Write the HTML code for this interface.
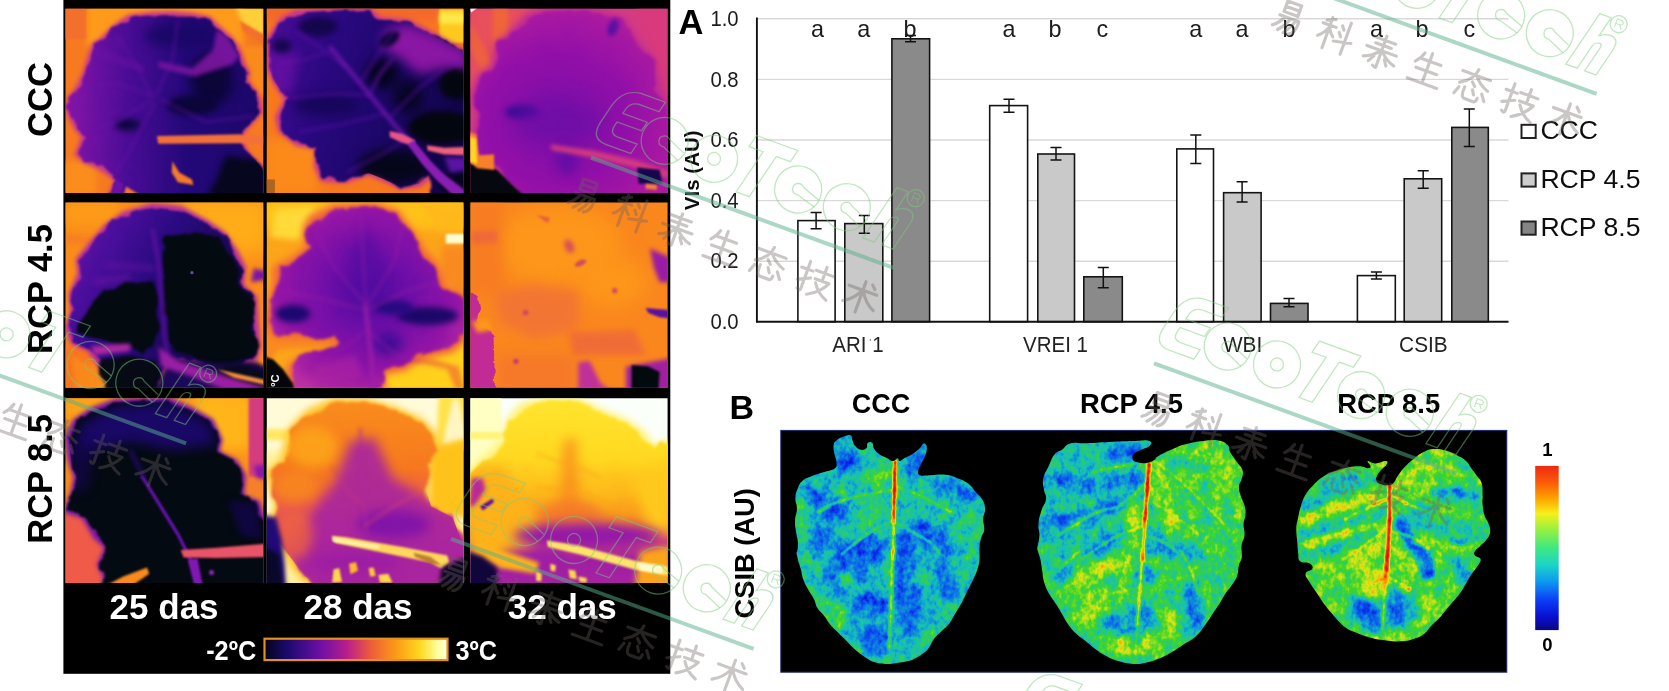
<!DOCTYPE html>
<html><head><meta charset="utf-8"><title>Figure</title>
<style>
html,body{margin:0;padding:0;background:#fff;}
body{width:1669px;height:691px;overflow:hidden;position:relative;font-family:"Liberation Sans",sans-serif;}
svg text{font-family:"Liberation Sans",sans-serif;}
#root{position:absolute;left:0;top:0;}
</style></head><body>
<svg id="root" width="1669" height="691" viewBox="0 0 1669 691">
<defs>
<filter id="tb" x="-5%" y="-5%" width="110%" height="110%"><feGaussianBlur stdDeviation="0.45"/></filter>
</defs>
<rect x="0" y="0" width="1669" height="691" fill="#fff"/>
<g id="leftpanel">
<rect x="63.4" y="0" width="606.9" height="673.8" fill="#000"/>
<g filter="url(#tb)" font-weight="bold">
<text transform="translate(51.6,99.5) rotate(-90)" font-size="34.5" text-anchor="middle" fill="#000">CCC</text>
<text transform="translate(51.6,289) rotate(-90)" font-size="34.5" text-anchor="middle" fill="#000">RCP 4.5</text>
<text transform="translate(51.6,478.9) rotate(-90)" font-size="34.5" text-anchor="middle" fill="#000">RCP 8.5</text>
<text x="164.1" y="618.5" font-size="35" text-anchor="middle" fill="#fff">25 das</text>
<text x="358" y="618.5" font-size="35" text-anchor="middle" fill="#fff">28 das</text>
<text x="562.3" y="618.5" font-size="35" text-anchor="middle" fill="#fff">32 das</text>
<text x="256.2" y="659.9" font-size="28" text-anchor="end" fill="#fff" textLength="50" lengthAdjust="spacingAndGlyphs">-2ºC</text>
<text x="455.4" y="659.9" font-size="28" fill="#fff" textLength="41.5" lengthAdjust="spacingAndGlyphs">3ºC</text>
</g>
<linearGradient id="tcb" x1="0" x2="1" y1="0" y2="0">
<stop offset="0" stop-color="#05051e"/><stop offset="0.12" stop-color="#1a0a6e"/><stop offset="0.3" stop-color="#6a0fa6"/>
<stop offset="0.45" stop-color="#b81e8c"/><stop offset="0.58" stop-color="#ee5a3c"/><stop offset="0.72" stop-color="#fb9a16"/>
<stop offset="0.85" stop-color="#ffd61e"/><stop offset="0.95" stop-color="#ffff9a"/><stop offset="1" stop-color="#ffffe0"/>
</linearGradient>
<rect x="263.4" y="637.6" width="185.2" height="23.6" fill="#e3901e"/>
<rect x="265.6" y="639.8" width="180.8" height="19.2" fill="url(#tcb)"/>
</g>
<g id="cells">
<defs>
<filter id="b2" filterUnits="userSpaceOnUse" x="-150" y="-150" width="2000" height="1000" color-interpolation-filters="sRGB"><feGaussianBlur stdDeviation="2"/></filter>
<filter id="b4" filterUnits="userSpaceOnUse" x="-150" y="-150" width="2000" height="1000" color-interpolation-filters="sRGB"><feGaussianBlur stdDeviation="4"/></filter>
<filter id="b7" filterUnits="userSpaceOnUse" x="-150" y="-150" width="2000" height="1000" color-interpolation-filters="sRGB"><feGaussianBlur stdDeviation="7"/></filter>
<filter id="b12" filterUnits="userSpaceOnUse" x="-150" y="-150" width="2000" height="1000" color-interpolation-filters="sRGB"><feGaussianBlur stdDeviation="12"/></filter>
<filter id="b20" filterUnits="userSpaceOnUse" x="-150" y="-150" width="2000" height="1000" color-interpolation-filters="sRGB"><feGaussianBlur stdDeviation="20"/></filter>
<filter id="b35" filterUnits="userSpaceOnUse" x="-150" y="-150" width="2000" height="1000" color-interpolation-filters="sRGB"><feGaussianBlur stdDeviation="35"/></filter>
<filter id="org" filterUnits="userSpaceOnUse" x="-150" y="-150" width="2000" height="1000" color-interpolation-filters="sRGB"><feTurbulence type="fractalNoise" baseFrequency="0.018" numOctaves="3" seed="3" result="n"/><feDisplacementMap in="SourceGraphic" in2="n" scale="34" xChannelSelector="R" yChannelSelector="G"/><feGaussianBlur stdDeviation="3.5"/></filter>
<filter id="org2" filterUnits="userSpaceOnUse" x="-150" y="-150" width="2000" height="1000" color-interpolation-filters="sRGB"><feTurbulence type="fractalNoise" baseFrequency="0.03" numOctaves="3" seed="7" result="n"/><feDisplacementMap in="SourceGraphic" in2="n" scale="22" xChannelSelector="R" yChannelSelector="G"/><feGaussianBlur stdDeviation="2.5"/></filter>
<filter id="org3" filterUnits="userSpaceOnUse" x="-150" y="-150" width="2000" height="1000" color-interpolation-filters="sRGB"><feTurbulence type="fractalNoise" baseFrequency="0.012" numOctaves="3" seed="11" result="n"/><feDisplacementMap in="SourceGraphic" in2="n" scale="50" xChannelSelector="R" yChannelSelector="G"/><feGaussianBlur stdDeviation="5"/></filter>
</defs>
<svg x="60.0" y="4.0" width="210.0" height="194.0" viewBox="0 0 748.0 691.0" preserveAspectRatio="none">
<clipPath id="cl00"><rect x="19.6" y="16.7" width="704.5" height="656.5"/></clipPath>
<g clip-path="url(#cl00)">
<rect x="0" y="0" width="748" height="691" fill="#f77a20"/>
<rect x="95" y="0" width="560" height="150" fill="#ff9a1a" filter="url(#b12)"/>
<rect x="10" y="10" width="82" height="115" fill="#f2702c" filter="url(#b4)"/>
<rect x="10" y="560" width="120" height="120" fill="#fb8d1c" filter="url(#b12)"/>
<path d="M625 10 L730 10 L730 120 L690 105 L650 70 Z" fill="#ffcf3a" filter="url(#b7)"/>
<path d="M640 60 L730 110 L730 150 L650 95 Z" fill="#f2702c" filter="url(#b4)"/>
<path d="M640 150 L730 150 L730 330 L690 300 L660 220 Z" fill="#f98a1c" filter="url(#b7)"/>
<linearGradient id="g00" x1="0" x2="1" y1="0" y2="0"><stop offset="0" stop-color="#8414a8"/><stop offset="0.3" stop-color="#4a0c96"/><stop offset="0.6" stop-color="#230878"/><stop offset="1" stop-color="#1c0768"/></linearGradient>
<!--halo--><path d="M185 95 L215 70 L250 48 L330 38 L400 36 L470 42 L530 55 L560 85 L600 120 L625 150 L640 185 L650 215 L668 250 L660 275 L690 310 L705 340 L715 380 L690 410 L662 440 L645 462 L650 500 L668 530 L700 560 L730 600 L730 690 L175 690 L185 650 L200 620 L160 590 L130 575 L95 560 L62 530 L75 500 L85 470 L60 440 L40 400 L32 365 L38 335 L65 300 L90 250 L105 200 L125 145 L150 130 Z" transform="translate(380,360) scale(1.035) translate(-380,-360)" fill="#c8388a" filter="url(#b7)"/>
<g filter="url(#org)">
<path id="lf00" d="M185 95 L215 70 L250 48 L330 38 L400 36 L470 42 L530 55 L560 85 L600 120 L625 150 L640 185 L650 215 L668 250 L660 275 L690 310 L705 340 L715 380 L690 410 L662 440 L645 462 L650 500 L668 530 L700 560 L730 600 L730 690 L175 690 L185 650 L200 620 L160 590 L130 575 L95 560 L62 530 L75 500 L85 470 L60 440 L40 400 L32 365 L38 335 L65 300 L90 250 L105 200 L125 145 L150 130 Z" fill="url(#g00)"/>
</g>
<clipPath id="lc00"><use href="#lf00"/></clipPath>
<g clip-path="url(#lc00)">
<ellipse cx="540" cy="270" rx="75" ry="95" fill="#0b0538" filter="url(#b20)"/>
<ellipse cx="470" cy="360" rx="90" ry="35" fill="#0b0538" filter="url(#b12)"/>
<ellipse cx="240" cy="430" rx="45" ry="22" fill="#0e0640" filter="url(#b12)"/>
<ellipse cx="430" cy="110" rx="130" ry="45" fill="#1a0768" filter="url(#b20)"/>
<path d="M590 540 L730 560 L730 690 L520 690 L560 620 Z" fill="#06061e" filter="url(#b12)"/>
<path d="M560 88 L600 120 L640 185 L615 215 L480 258 L350 225 L350 205 L470 230 L545 165 Z" fill="#8418a6" opacity="0.85" filter="url(#b7)"/>
<path d="M130 150 L300 220 L300 245 L120 190 Z" fill="#6a12a4" opacity="0.5" filter="url(#b7)"/>
<g stroke="#6a14aa" fill="none" opacity="0.5" filter="url(#b7)" stroke-width="9">
<path d="M330 330 L200 280 L80 300"/><path d="M330 330 L260 200 L200 110"/><path d="M340 330 L400 200 L420 60"/>
<path d="M330 340 L200 420 L70 470"/><path d="M340 350 L250 520 L200 600"/><path d="M360 340 L520 420 L690 400"/>
</g>
</g>
<path d="M345 470 L640 464 L730 470 L730 500 L645 496 L350 498 Z" fill="#f4703a" filter="url(#b4)"/>
<path d="M400 560 L425 600 L470 625 L475 645 L420 635 L398 600 Z" fill="#f57a2a" filter="url(#b4)"/>
<path d="M180 690 L200 625 L225 640 L215 690 Z" fill="#6a12a4" filter="url(#b4)"/>
<path d="M225 690 L235 650 L300 690 Z" fill="#f57a2a" filter="url(#b4)"/>
</g></svg>
<svg x="262.0" y="4.0" width="206.0" height="194.0" viewBox="0 0 734.0 691.0" preserveAspectRatio="none">
<clipPath id="cl01"><rect x="17.1" y="16.7" width="700.5" height="656.5"/></clipPath>
<g clip-path="url(#cl01)">
<rect x="0" y="0" width="734" height="691" fill="#f8781e"/>
<rect x="0" y="0" width="734" height="60" fill="#f4682c" filter="url(#b12)"/>
<rect x="10" y="480" width="190" height="200" fill="#fb8a1a" filter="url(#b20)"/>
<rect x="632" y="18" width="90" height="120" fill="#ffc81e" filter="url(#b4)"/>
<rect x="632" y="30" width="90" height="40" fill="#ffe84a" filter="url(#b7)"/>
<linearGradient id="g01" x1="0" x2="1" y1="0" y2="0.3"><stop offset="0" stop-color="#4a0c98"/><stop offset="0.35" stop-color="#2a0880"/><stop offset="0.7" stop-color="#1c0768"/><stop offset="1" stop-color="#12054c"/></linearGradient>
<!--halo--><path d="M75 60 L130 30 L230 25 L380 18 L420 55 L520 65 L600 105 L680 150 L740 185 L740 690 L600 690 L595 610 L560 640 L490 650 L430 622 L380 602 L300 628 L215 622 L192 570 L195 512 L130 500 L70 452 L58 400 L88 340 L55 290 L25 230 L28 130 Z" transform="translate(400,340) scale(1.035) translate(-400,-340)" fill="#c8388a" filter="url(#b7)"/>
<g filter="url(#org)">
<path id="lf01" d="M75 60 L130 30 L230 25 L380 18 L420 55 L520 65 L600 105 L680 150 L740 185 L740 690 L600 690 L595 610 L560 640 L490 650 L430 622 L380 602 L300 628 L215 622 L192 570 L195 512 L130 500 L70 452 L58 400 L88 340 L55 290 L25 230 L28 130 Z" fill="url(#g01)"/>
</g>
<clipPath id="lc01"><use href="#lf01"/></clipPath>
<g clip-path="url(#lc01)">
<path d="M440 90 L520 70 L620 110 L740 170 L740 250 L640 230 L560 250 L500 200 L430 160 Z" fill="#8a16a4" filter="url(#b20)"/>
<path d="M20 150 L130 180 L100 330 L20 300 Z" fill="#6a10a4" opacity="0.8" filter="url(#b20)"/>
<ellipse cx="690" cy="285" rx="60" ry="55" fill="#04060f" filter="url(#b12)"/>
<ellipse cx="640" cy="440" rx="120" ry="60" fill="#04060f" filter="url(#b12)"/>
<ellipse cx="470" cy="580" rx="130" ry="62" fill="#05061a" filter="url(#b20)"/>
<ellipse cx="430" cy="250" rx="60" ry="55" fill="#06051e" filter="url(#b20)"/>
<ellipse cx="520" cy="330" rx="55" ry="60" fill="#080524" filter="url(#b20)"/>
<ellipse cx="455" cy="125" rx="40" ry="22" fill="#0a0530" transform="rotate(-35 455 125)" filter="url(#b7)"/>
<ellipse cx="200" cy="80" rx="70" ry="35" fill="#14064c" filter="url(#b12)"/>
<ellipse cx="70" cy="150" rx="35" ry="25" fill="#14064c" filter="url(#b12)"/>
<ellipse cx="230" cy="360" rx="120" ry="40" fill="#16065a" filter="url(#b20)"/>
<ellipse cx="690" cy="640" rx="60" ry="40" fill="#05061a" filter="url(#b12)"/>
<g stroke="#6214aa" fill="none" opacity="0.55" filter="url(#b7)" stroke-width="9">
<path d="M300 225 L200 150 L120 95"/><path d="M385 325 L250 320 L100 335"/><path d="M440 390 L280 430 L130 455"/>
<path d="M350 280 L420 170 L480 85"/><path d="M455 405 L560 300 L640 240 L720 200"/><path d="M520 480 L420 540 L300 600"/>
<path d="M250 165 L150 200 L50 215"/>
</g>
<path d="M240 150 L480 440 L620 595 L730 680" stroke="#7418b0" stroke-width="12" fill="none" filter="url(#b7)"/>
<path d="M380 330 L420 250 L470 190" stroke="#5a12a4" stroke-width="8" fill="none" filter="url(#b7)"/>
</g>
<path d="M455 452 L500 462 L545 485 L540 505 L495 492 L455 474 Z" fill="#e85486" filter="url(#b4)"/>
<path d="M540 485 L600 560 L650 610 L735 675 L735 695 L690 690 L620 625 L570 570 L520 500 Z" fill="#8a1eb4" filter="url(#b4)"/>
<path d="M588 503 L650 512 L735 508 L735 540 L650 536 L590 522 Z" fill="#f0607a" filter="url(#b4)"/>
<path d="M650 545 L740 548 L740 590 L670 600 Z" fill="#5a14a4" filter="url(#b7)"/>
<rect x="14" y="625" width="32" height="50" fill="#b0621e" filter="url(#b2)"/>
</g></svg>
<svg x="466.0" y="4.0" width="206.0" height="194.0" viewBox="0 0 734.0 691.0" preserveAspectRatio="none">
<clipPath id="cl02"><rect x="15.7" y="16.7" width="702.6" height="656.5"/></clipPath>
<g clip-path="url(#cl02)">
<rect x="0" y="0" width="734" height="691" fill="#d63c82"/>
<path d="M0 0 L260 0 L160 120 L100 230 L0 330 Z" fill="#e8505c" filter="url(#b20)"/>
<path d="M95 10 L150 10 L150 130 L95 190 Z" fill="#f0643a" filter="url(#b7)"/>
<path d="M15 60 L100 220 L60 250 L15 160 Z" fill="#f0643a" opacity="0.8" filter="url(#b7)"/>
<path d="M600 0 L734 0 L734 350 L700 330 L660 190 Z" fill="#d83a7c" filter="url(#b12)"/>
<radialGradient id="g02" cx="0.42" cy="0.58" r="0.6"><stop offset="0" stop-color="#7a0ea8"/><stop offset="0.6" stop-color="#920fa8"/><stop offset="1" stop-color="#ac1aa0"/></radialGradient>
<!--halo--><path d="M215 50 L300 28 L450 28 L560 58 L602 130 L660 200 L682 280 L706 350 L725 420 L734 600 L734 690 L200 690 L130 600 L80 560 L28 500 L40 440 L50 380 L28 330 L50 260 L100 220 L110 150 L160 110 Z" transform="translate(370,360) scale(1.04) translate(-370,-360)" fill="#c02c92" filter="url(#b12)"/>
<g filter="url(#org3)">
<path id="lf02" d="M215 50 L300 28 L450 28 L560 58 L602 130 L660 200 L682 280 L706 350 L725 420 L734 600 L734 690 L200 690 L130 600 L80 560 L28 500 L40 440 L50 380 L28 330 L50 260 L100 220 L110 150 L160 110 Z" fill="url(#g02)"/>
</g>
<ellipse cx="200" cy="385" rx="62" ry="26" fill="#3a0a94" filter="url(#b12)"/>
<ellipse cx="330" cy="420" rx="160" ry="80" fill="#6a0ea6" opacity="0.7" filter="url(#b35)"/>
<ellipse cx="524" cy="84" rx="18" ry="32" fill="#5a10a2" transform="rotate(20 524 84)" filter="url(#b7)"/>
<ellipse cx="360" cy="560" rx="40" ry="50" fill="#5a0ea4" opacity="0.8" filter="url(#b20)"/>
<path d="M300 500 L450 522 L600 555 L734 598 L734 625 L590 580 L440 545 L305 520 Z" fill="#d63c7e" filter="url(#b7)"/>
<path d="M0 565 L60 575 L110 590 L160 640 L215 690 L0 690 Z" fill="#05080f" filter="url(#b4)"/>
<path d="M10 455 L38 465 L45 540 L100 535 L100 590 L40 585 L10 560 Z" fill="#f8802a" filter="url(#b4)"/>
<path d="M10 470 L36 480 L40 570 L10 560 Z" fill="#ffd624" filter="url(#b4)"/>
<path d="M610 582 L690 590 L700 640 L615 640 Z" fill="#16064e" filter="url(#b4)"/>
<path d="M640 640 L680 645 L680 662 L640 658 Z" fill="#f08a2a" filter="url(#b4)"/>
<path d="M12 14 L40 14 L18 30 Z" fill="#fff" filter="url(#b2)"/>
</g></svg>
<svg x="60.0" y="198.0" width="210.0" height="194.0" viewBox="0 0 748.0 691.0" preserveAspectRatio="none">
<clipPath id="cl10"><rect x="19.6" y="16.4" width="704.5" height="659.7"/></clipPath>
<g clip-path="url(#cl10)">
<rect x="0" y="0" width="748" height="691" fill="#fb8c1a"/>
<rect x="420" y="0" width="330" height="200" fill="#ffac18" filter="url(#b35)"/>
<rect x="10" y="10" width="200" height="90" fill="#fd9a18" filter="url(#b20)"/>
<path d="M20 130 L200 150 L200 175 L20 160 Z" fill="#f57a2a" opacity="0.7" filter="url(#b7)"/>
<path d="M10 520 L120 530 L90 690 L10 690 Z" fill="#f9761e" filter="url(#b12)"/>
<linearGradient id="g10" x1="0" x2="1" y1="0" y2="0.5"><stop offset="0" stop-color="#7a14a8"/><stop offset="0.25" stop-color="#4a0e9c"/><stop offset="0.5" stop-color="#2a0a80"/><stop offset="1" stop-color="#10063c"/></linearGradient>
<!--halo--><path d="M230 60 L330 30 L430 40 L520 88 L582 130 L622 190 L652 250 L645 310 L690 350 L695 440 L702 520 L690 570 L640 605 L560 600 L470 580 L400 570 L380 600 L330 690 L200 690 L150 600 L110 540 L50 512 L30 460 L50 400 L44 340 L74 272 L68 222 L110 170 L170 100 Z" transform="translate(370,340) scale(1.04) translate(-370,-340)" fill="#b8309a" filter="url(#b7)"/>
<g filter="url(#org)">
<path id="lf10" d="M230 60 L330 30 L430 40 L520 88 L582 130 L622 190 L652 250 L645 310 L690 350 L695 440 L702 520 L690 570 L640 605 L560 600 L470 580 L400 570 L380 600 L330 690 L200 690 L150 600 L110 540 L50 512 L30 460 L50 400 L44 340 L74 272 L68 222 L110 170 L170 100 Z" fill="url(#g10)"/>
</g>
<g filter="url(#org3)">
<path d="M372 135 L470 120 L560 140 L610 200 L640 262 L640 320 L682 372 L690 440 L692 560 L600 600 L430 562 L384 482 L366 300 Z" fill="#030a10"/>
<path d="M100 400 L160 330 L230 295 L340 300 L352 480 L300 560 L250 522 L120 512 L62 472 Z" fill="#030a10"/>
<path d="M140 580 L250 560 L340 580 L360 640 L330 700 L170 700 Z" fill="#050a14"/>
</g>
<path d="M395 565 L560 590 L700 585 L748 610 L748 700 L330 700 Z" fill="#1c0858" filter="url(#b7)"/>
<path d="M560 600 L660 590 L748 620 L748 700 L600 700 Z" fill="#070a1c" filter="url(#b12)"/>
<path d="M330 110 L352 235 L372 480 L384 570" stroke="#6a12a8" stroke-width="10" fill="none" filter="url(#b7)"/>
<path d="M160 240 L340 250" stroke="#7a16aa" stroke-width="14" fill="none" opacity="0.6" filter="url(#b12)"/>
<path d="M120 300 L250 280" stroke="#8a18aa" stroke-width="14" fill="none" opacity="0.6" filter="url(#b12)"/>
<path d="M110 528 L250 518 L250 545 L120 560 Z" fill="#b02aa0" filter="url(#b7)"/>
<path d="M350 530 L420 580 L560 625 L748 680 L748 700 L600 690 L480 640 L360 600 Z" fill="#9a1ea4" filter="url(#b7)"/>
<path d="M560 610 L740 650 L740 668 L620 640 Z" fill="#f08c3a" filter="url(#b4)"/>
<path d="M40 560 L110 600 L160 690 L60 690 Z" fill="#f98a1c" opacity="0.9" filter="url(#b7)"/>
<path d="M690 250 L740 262 L740 290 L680 300 Z" fill="#7a14a8" filter="url(#b7)"/>
<circle cx="470" cy="266" r="6" fill="#6a4a9a" filter="url(#b2)"/>
</g></svg>
<svg x="262.0" y="198.0" width="206.0" height="194.0" viewBox="0 0 734.0 691.0" preserveAspectRatio="none">
<clipPath id="cl11"><rect x="17.1" y="16.4" width="700.5" height="659.7"/></clipPath>
<g clip-path="url(#cl11)">
<rect x="0" y="0" width="734" height="691" fill="#fca41a"/>
<rect x="0" y="0" width="734" height="110" fill="#ffc21a" filter="url(#b20)"/>
<path d="M50 40 L190 30 L130 150 L30 140 Z" fill="#ffda38" filter="url(#b12)"/>
<path d="M560 20 L734 20 L734 120 L640 110 Z" fill="#ffb81a" filter="url(#b12)"/>
<path d="M640 170 L734 170 L734 330 L690 330 L640 280 Z" fill="#f98a20" filter="url(#b12)"/>
<rect x="655" y="128" width="70" height="34" fill="#fffbd0" filter="url(#b4)"/>
<path d="M470 540 L734 460 L734 691 L400 691 Z" fill="#ffd01c" filter="url(#b12)"/>
<path d="M560 560 L700 600 L720 680 L690 680 L660 610 L540 585 Z" fill="#f58a2a" filter="url(#b7)"/>
<path d="M10 470 L270 500 L260 530 L60 540 L10 600 Z" fill="#f98a20" filter="url(#b7)"/>
<radialGradient id="g11" cx="0.5" cy="0.45" r="0.62"><stop offset="0" stop-color="#4a0a9e"/><stop offset="0.35" stop-color="#700ea8"/><stop offset="0.7" stop-color="#9414a6"/><stop offset="1" stop-color="#c234a0"/></radialGradient>
<path d="M180 80 L260 40 L400 35 L480 60 L522 120 L572 200 L612 240 L642 320 L700 338 L740 400 L740 470 L662 540 L562 562 L500 602 L432 612 L440 660 L400 700 L130 700 L100 600 L130 560 L270 520 L262 496 L60 488 L18 440 L38 380 L58 300 L58 250 L120 220 L170 180 L158 120 Z" transform="translate(370,350) scale(1.06) translate(-370,-350)" fill="#f0643c" filter="url(#b12)"/>
<g filter="url(#org3)">
<path id="lf11" d="M180 80 L260 40 L400 35 L480 60 L522 120 L572 200 L612 240 L642 320 L700 338 L740 400 L740 470 L662 540 L562 562 L500 602 L432 612 L440 660 L400 700 L130 700 L100 600 L130 560 L270 520 L262 496 L60 488 L18 440 L38 380 L58 300 L58 250 L120 220 L170 180 L158 120 Z" fill="url(#g11)"/>
</g>
<ellipse cx="110" cy="412" rx="62" ry="32" fill="#1a0870" filter="url(#b12)"/>
<ellipse cx="590" cy="420" rx="110" ry="32" fill="#1a0868" filter="url(#b12)"/>
<ellipse cx="470" cy="390" rx="70" ry="26" fill="#260a80" filter="url(#b12)"/>
<ellipse cx="370" cy="250" rx="60" ry="130" fill="#540ca2" opacity="0.6" filter="url(#b20)"/>
<ellipse cx="450" cy="520" rx="50" ry="40" fill="#300a90" opacity="0.8" filter="url(#b20)"/>
<g stroke="#9a20a6" fill="none" opacity="0.5" filter="url(#b7)" stroke-width="8">
<path d="M370 380 L260 250 L190 120"/><path d="M370 380 L360 200 L350 60"/><path d="M372 385 L470 230 L500 100"/>
<path d="M370 400 L220 360 L60 330"/><path d="M375 400 L520 330 L630 300"/><path d="M380 470 L250 560 L150 620"/><path d="M385 480 L480 560 L560 580"/>
</g>
<path d="M368 380 L388 560 L402 690" stroke="#a020a4" stroke-width="12" fill="none" filter="url(#b7)"/>
<path d="M180 600 L330 560 L360 640 L200 670 Z" fill="#a822a2" opacity="0.7" filter="url(#b12)"/>
<path d="M0 560 L40 575 L75 610 L110 660 L120 700 L0 700 Z" fill="#04060c" filter="url(#b4)"/>
<g filter="url(#b2)"><text transform="translate(62,672) rotate(-90)" font-size="40" fill="#fff" font-weight="bold">ºC</text></g>
</g></svg>
<svg x="466.0" y="198.0" width="206.0" height="194.0" viewBox="0 0 734.0 691.0" preserveAspectRatio="none">
<clipPath id="cl12"><rect x="15.7" y="16.4" width="702.6" height="659.7"/></clipPath>
<g clip-path="url(#cl12)">
<rect x="0" y="0" width="734" height="691" fill="#fa861e"/>
<ellipse cx="330" cy="170" rx="230" ry="140" fill="#fd961a" filter="url(#b35)"/>
<ellipse cx="520" cy="300" rx="130" ry="90" fill="#fd961a" filter="url(#b35)"/>
<rect x="10" y="10" width="120" height="330" fill="#f87c22" filter="url(#b20)"/>
<path d="M20 120 L110 115 L110 160 L20 165 Z" fill="#f06a38" filter="url(#b7)"/>
<path d="M100 340 L240 310 L400 330 L400 470 L240 500 L120 440 Z" fill="#f0703a" opacity="0.75" filter="url(#b20)"/>
<path d="M370 480 L600 470 L640 560 L380 560 Z" fill="#ee663c" opacity="0.8" filter="url(#b12)"/>
<path d="M110 560 L380 560 L400 690 L110 690 Z" fill="#f4762c" opacity="0.8" filter="url(#b20)"/>
<g filter="url(#org2)">
<path d="M0 330 L30 345 L52 380 L42 440 L98 488 L104 690 L0 690 Z" fill="#c22a96"/>
</g>
<path d="M20 440 L80 430 L95 470 L40 480 Z" fill="#fd961a" filter="url(#b7)"/>
<path d="M655 180 L734 215 L734 300 L690 300 L670 250 Z" fill="#9a1ca4" filter="url(#b7)"/>
<path d="M640 392 L734 400 L734 430 L690 425 L650 410 Z" fill="#5a10a0" filter="url(#b4)"/>
<path d="M400 585 L440 580 L480 660 L520 690 L400 690 Z" fill="#c0309a" filter="url(#b7)"/>
<path d="M570 600 L734 570 L734 691 L570 691 Z" fill="#a020a0" filter="url(#b7)"/>
<path d="M590 595 L650 600 L690 620 L685 691 L590 691 Z" fill="#030a0e" filter="url(#b4)"/>
<ellipse cx="368" cy="172" rx="16" ry="26" fill="#d8505a" transform="rotate(-25 368 172)" filter="url(#b7)"/>
<ellipse cx="408" cy="232" rx="22" ry="10" fill="#d04a60" transform="rotate(-25 408 232)" filter="url(#b4)"/>
<circle cx="530" cy="330" r="10" fill="#d8505a" filter="url(#b4)"/>
<circle cx="178" cy="582" r="9" fill="#c23a70" filter="url(#b4)"/>
<circle cx="212" cy="408" r="10" fill="#d04a60" filter="url(#b4)"/>
<path d="M250 60 L300 70 L290 90 Z" fill="#e8603c" filter="url(#b4)"/>
</g></svg>
<svg x="60.0" y="394.0" width="210.0" height="194.0" viewBox="0 0 748.0 691.0" preserveAspectRatio="none">
<clipPath id="cl20"><rect x="19.6" y="15.0" width="704.5" height="658.2"/></clipPath>
<g clip-path="url(#cl20)">
<rect x="0" y="0" width="748" height="691" fill="#fb921a"/>
<rect x="480" y="0" width="200" height="200" fill="#ffb41a" filter="url(#b20)"/>
<rect x="0" y="0" width="200" height="90" fill="#fca21a" filter="url(#b20)"/>
<rect x="672" y="0" width="80" height="300" fill="#d43c80" filter="url(#b4)"/>
<path d="M640 290 L748 300 L748 400 L650 380 Z" fill="#f5802a" filter="url(#b7)"/>
<path d="M690 255 L748 250 L748 305 L700 300 Z" fill="#8a18a8" filter="url(#b7)"/>
<path d="M0 400 L100 430 L170 540 L150 691 L0 691 Z" fill="#f05a48" filter="url(#b12)"/>
<path d="M20 250 L50 260 L40 420 L20 420 Z" fill="#f98a1c" filter="url(#b7)"/>
<!--halo--><path d="M60 100 L120 60 L200 30 L380 20 L470 60 L540 100 L572 170 L562 210 L622 240 L652 290 L646 360 L700 380 L716 430 L740 500 L740 700 L150 700 L160 640 L140 600 L165 540 L130 510 L90 440 L25 420 L50 350 L60 300 L40 240 L30 160 Z" transform="translate(380,360) scale(1.04) translate(-380,-360)" fill="#7a18a8" filter="url(#b7)"/>
<g filter="url(#org)">
<path id="lf20" d="M60 100 L120 60 L200 30 L380 20 L470 60 L540 100 L572 170 L562 210 L622 240 L652 290 L646 360 L700 380 L716 430 L740 500 L740 700 L150 700 L160 640 L140 600 L165 540 L130 510 L90 440 L25 420 L50 350 L60 300 L40 240 L30 160 Z" fill="#040a12"/>
</g>
<clipPath id="lc20"><use href="#lf20"/></clipPath>
<g clip-path="url(#lc20)"><path d="M70 110 L200 40 L380 28 L470 66 L535 110 L560 180 L400 200 L250 170 L120 200 L50 230 Z" fill="#1c0870" opacity="0.9" filter="url(#b20)"/>
<path d="M40 200 L120 170 L100 330 L40 360 Z" fill="#14064c" opacity="0.8" filter="url(#b20)"/>
<path d="M600 380 L700 390 L720 520 L640 500 Z" fill="#12064a" opacity="0.8" filter="url(#b12)"/></g>
<path d="M290 290 L420 500 L470 600 L500 690" stroke="#6a14b4" stroke-width="11" fill="none" filter="url(#b4)"/>
<path d="M455 590 L490 585 L510 690 L480 690 Z" fill="#8018b4" filter="url(#b4)"/>
<path d="M250 200 L300 300" stroke="#2a0a80" stroke-width="10" fill="none" filter="url(#b7)"/>
<path d="M430 556 L560 548 L748 532 L748 580 L560 584 L440 582 Z" fill="#ea5468" filter="url(#b4)"/>
<path d="M225 650 L310 618 L318 640 L260 680 L150 690 Z" fill="#fb8a1c" filter="url(#b4)"/>
<circle cx="540" cy="636" r="9" fill="#8a2ab4" filter="url(#b4)"/>
</g></svg>
<svg x="262.0" y="394.0" width="206.0" height="194.0" viewBox="0 0 734.0 691.0" preserveAspectRatio="none">
<clipPath id="cl21"><rect x="17.1" y="15.0" width="700.5" height="658.2"/></clipPath>
<g clip-path="url(#cl21)">
<rect x="0" y="0" width="734" height="691" fill="#fffbd8"/>
<path d="M630 0 L734 0 L734 200 L620 200 Z" fill="#ffe24a" filter="url(#b7)"/>
<path d="M640 190 L680 20 L700 20 L734 160 Z" fill="#fffbe0" opacity="0.8" filter="url(#b7)"/>
<path d="M590 190 L734 160 L734 440 L600 430 Z" fill="#ffc21a" filter="url(#b12)"/>
<rect x="0" y="125" width="110" height="40" fill="#ffe860" filter="url(#b7)"/>
<rect x="0" y="200" width="80" height="100" fill="#fff3a0" filter="url(#b12)"/>
<rect x="70" y="600" width="180" height="100" fill="#fff0a0" filter="url(#b7)"/>
<linearGradient id="g21" x1="0" x2="0" y1="0" y2="1"><stop offset="0" stop-color="#f98c1c"/><stop offset="0.35" stop-color="#f6781e"/><stop offset="0.55" stop-color="#ec5c4a"/><stop offset="0.75" stop-color="#c83a8a"/><stop offset="1" stop-color="#a8249c"/></linearGradient>
<!--halo--><path d="M170 70 L260 30 L380 35 L470 60 L560 100 L612 150 L622 200 L592 250 L582 330 L602 400 L680 440 L702 500 L730 560 L730 700 L200 700 L130 620 L100 580 L60 520 L40 440 L60 400 L40 340 L28 280 L80 240 L90 190 L110 130 Z" transform="translate(370,360) scale(1.05) translate(-370,-360)" fill="#ffc428" filter="url(#b12)"/>
<g filter="url(#org3)">
<path id="lf21" d="M170 70 L260 30 L380 35 L470 60 L560 100 L612 150 L622 200 L592 250 L582 330 L602 400 L680 440 L702 500 L730 560 L730 700 L200 700 L130 620 L100 580 L60 520 L40 440 L60 400 L40 340 L28 280 L80 240 L90 190 L110 130 Z" fill="url(#g21)"/>
</g>
<clipPath id="lc21"><use href="#lf21"/></clipPath>
<g clip-path="url(#lc21)">
<ellipse cx="180" cy="190" rx="90" ry="75" fill="#fda41a" opacity="0.9" filter="url(#b20)"/>
<ellipse cx="120" cy="330" rx="80" ry="60" fill="#f98a1c" opacity="0.8" filter="url(#b20)"/>
<path d="M318 165 L402 158 L465 300 L600 380 L734 440 L734 620 L560 691 L200 691 L70 570 L175 425 L258 320 Z" fill="#a824a0" opacity="0.9" filter="url(#b20)"/>
<ellipse cx="470" cy="465" rx="130" ry="50" fill="#8214a8" filter="url(#b20)"/>
<ellipse cx="330" cy="600" rx="160" ry="40" fill="#9a1ca4" opacity="0.8" filter="url(#b20)"/>
<path d="M350 120 L360 330 L372 500" stroke="#b02a9c" stroke-width="9" fill="none" opacity="0.7" filter="url(#b7)"/>
<path d="M365 470 L470 400 L560 350" stroke="#d84a70" stroke-width="7" fill="none" opacity="0.7" filter="url(#b7)"/>
<path d="M362 400 L300 340 L250 260" stroke="#c83a80" stroke-width="7" fill="none" opacity="0.6" filter="url(#b7)"/>
<ellipse cx="110" cy="500" rx="70" ry="90" fill="#f0643c" opacity="0.8" filter="url(#b20)"/>
</g>
<path d="M248 505 L300 510 L500 545 L660 575 L668 600 L640 622 L600 600 L480 575 L260 530 Z" fill="#ffd85a" filter="url(#b4)"/>
<path d="M250 510 L420 540 L415 552 L252 525 Z" fill="#fff2a8" filter="url(#b4)"/>
<path d="M540 565 L600 580 L640 610 L600 605 L545 580 Z" fill="#a05a1e" opacity="0.7" filter="url(#b4)"/>
<path d="M255 625 L275 620 L285 670 L250 672 Z" fill="#ffd84a" filter="url(#b4)"/>
<path d="M310 605 L335 598 L342 630 L315 642 Z" fill="#ffb82a" filter="url(#b4)"/>
<path d="M380 620 L398 618 L405 648 L385 650 Z" fill="#ffc83a" filter="url(#b4)"/>
<path d="M415 645 L450 640 L465 672 L420 672 Z" fill="#ffd84a" filter="url(#b4)"/>
<path d="M0 430 L50 440 L70 520 L80 600 L85 690 L0 690 Z" fill="#200a78" filter="url(#b7)"/>
<path d="M0 540 L60 570 L75 690 L0 690 Z" fill="#0a0828" filter="url(#b7)"/>
<path d="M640 620 L700 590 L734 585 L734 691 L630 691 Z" fill="#0a0620" filter="url(#b7)"/>
</g></svg>
<svg x="466.0" y="394.0" width="206.0" height="194.0" viewBox="0 0 734.0 691.0" preserveAspectRatio="none">
<clipPath id="cl22"><rect x="15.7" y="15.0" width="702.6" height="658.2"/></clipPath>
<g clip-path="url(#cl22)">
<rect x="0" y="0" width="734" height="691" fill="#fbfffa"/>
<rect x="0" y="0" width="126" height="280" fill="#ffffc4" filter="url(#b4)"/>
<rect x="0" y="135" width="126" height="26" fill="#fff47a" filter="url(#b4)"/>
<linearGradient id="g22" x1="0" x2="0" y1="0" y2="1"><stop offset="0" stop-color="#ffe42e"/><stop offset="0.3" stop-color="#ffd820"/><stop offset="0.5" stop-color="#fdb61a"/><stop offset="0.64" stop-color="#f98c1e"/><stop offset="0.74" stop-color="#d44a78"/><stop offset="0.84" stop-color="#a01ea4"/><stop offset="1" stop-color="#a824a0"/></linearGradient>
<!--halo--><path d="M200 50 L300 25 L400 30 L480 70 L560 100 L620 140 L660 195 L700 170 L740 200 L740 700 L0 700 L0 300 L40 260 L100 210 L140 170 L150 110 Z" transform="translate(370,380) scale(1.05) translate(-370,-380)" fill="#fff27a" filter="url(#b12)"/>
<g filter="url(#org3)">
<path id="lf22" d="M200 50 L300 25 L400 30 L480 70 L560 100 L620 140 L660 195 L700 170 L740 200 L740 700 L0 700 L0 300 L40 260 L100 210 L140 170 L150 110 Z" fill="url(#g22)"/>
</g>
<clipPath id="lc22"><use href="#lf22"/></clipPath>
<g clip-path="url(#lc22)">
<path d="M0 280 L120 250 L260 420 L240 560 L100 600 L0 560 Z" fill="#fdb21a" filter="url(#b20)"/>
<path d="M600 300 L734 250 L734 500 L650 480 Z" fill="#ffc81c" filter="url(#b20)"/>
<path d="M350 160 L390 160 L410 440 L330 440 Z" fill="#f98c1e" opacity="0.85" filter="url(#b20)"/>
<ellipse cx="370" cy="430" rx="120" ry="50" fill="#f4762c" opacity="0.8" filter="url(#b20)"/>
<ellipse cx="430" cy="505" rx="260" ry="46" fill="#9418a8" filter="url(#b20)"/>
<ellipse cx="250" cy="600" rx="150" ry="50" fill="#a01ea4" filter="url(#b20)"/>
<path d="M620 560 L734 540 L734 700 L600 700 Z" fill="#fba41a" filter="url(#b12)"/>
<path d="M20 300 L60 300 L70 340 L30 400 L10 400 Z" fill="#b82a98" filter="url(#b7)"/>
<path d="M50 400 L95 372 L100 385 L60 415 Z" fill="#5a10a0" filter="url(#b4)"/>
<path d="M40 520 L140 560 L260 600 L250 640 L120 620 L30 560 Z" fill="#fdb21a" filter="url(#b7)"/>
<path d="M250 210 L350 250 M480 300 L400 260 M540 400 L420 350 M250 330 L340 340" stroke="#f9a01c" stroke-width="7" fill="none" opacity="0.7" filter="url(#b7)"/>
</g>
<path d="M288 522 L400 540 L620 598 L740 618 L740 650 L600 625 L400 570 L292 545 Z" fill="#ffe468" filter="url(#b4)"/>
<path d="M610 600 L700 612 L700 640 L620 628 Z" fill="#fffbd0" filter="url(#b4)"/>
<path d="M0 560 L60 580 L110 620 L115 700 L0 700 Z" fill="#10063c" filter="url(#b7)"/>
<path d="M250 630 L270 640 L268 668 L250 665 Z M300 605 L320 610 L318 632 L302 630 Z M365 625 L390 630 L395 660 L370 655 Z M400 650 L430 655 L430 672 L405 670 Z" fill="#ffd84a" filter="url(#b4)"/>
</g></svg>
</g>
<g id="chart">
<line x1="757" y1="18.8" x2="1508.5" y2="18.8" stroke="#d9d9d9" stroke-width="1.4"/>
<line x1="757" y1="79.4" x2="1508.5" y2="79.4" stroke="#d9d9d9" stroke-width="1.4"/>
<line x1="757" y1="140.0" x2="1508.5" y2="140.0" stroke="#d9d9d9" stroke-width="1.4"/>
<line x1="757" y1="200.6" x2="1508.5" y2="200.6" stroke="#d9d9d9" stroke-width="1.4"/>
<line x1="757" y1="261.2" x2="1508.5" y2="261.2" stroke="#d9d9d9" stroke-width="1.4"/>
<rect x="797.9" y="220.6" width="37.2" height="101.1" fill="#fff" stroke="#141414" stroke-width="1.6"/>
<rect x="844.8" y="223.6" width="38.0" height="98.1" fill="#c9c9c9" stroke="#141414" stroke-width="1.6"/>
<rect x="891.9" y="38.8" width="37.7" height="282.9" fill="#8a8a8a" stroke="#141414" stroke-width="1.6"/>
<rect x="989.7" y="105.6" width="37.9" height="216.1" fill="#fff" stroke="#141414" stroke-width="1.6"/>
<rect x="1037.8" y="154.0" width="36.7" height="167.7" fill="#c9c9c9" stroke="#141414" stroke-width="1.6"/>
<rect x="1083.8" y="276.8" width="38.5" height="44.9" fill="#8a8a8a" stroke="#141414" stroke-width="1.6"/>
<rect x="1176.8" y="148.9" width="36.7" height="172.8" fill="#fff" stroke="#141414" stroke-width="1.6"/>
<rect x="1223.6" y="192.7" width="37.5" height="129.0" fill="#c9c9c9" stroke="#141414" stroke-width="1.6"/>
<rect x="1270.5" y="303.4" width="37.5" height="18.3" fill="#8a8a8a" stroke="#141414" stroke-width="1.6"/>
<rect x="1357.4" y="275.6" width="37.9" height="46.1" fill="#fff" stroke="#141414" stroke-width="1.6"/>
<rect x="1404.2" y="178.8" width="37.5" height="142.9" fill="#c9c9c9" stroke="#141414" stroke-width="1.6"/>
<rect x="1451.8" y="127.4" width="36.5" height="194.3" fill="#8a8a8a" stroke="#141414" stroke-width="1.6"/>
<path d="M810.6 212.5H821.6M816.1 212.5V228.7M810.6 228.7H821.6" stroke="#111" stroke-width="1.5" fill="none"/>
<path d="M858.8 215.5H869.8M864.3 215.5V233.3M858.8 233.3H869.8" stroke="#111" stroke-width="1.5" fill="none"/>
<path d="M905.0 35.5H916.0M910.5 35.5V41.8M905.0 41.8H916.0" stroke="#111" stroke-width="1.5" fill="none"/>
<path d="M1003.5 99.3H1014.5M1009.0 99.3V112.2M1003.5 112.2H1014.5" stroke="#111" stroke-width="1.5" fill="none"/>
<path d="M1050.5 147.4H1061.5M1056.0 147.4V160.0M1050.5 160.0H1061.5" stroke="#111" stroke-width="1.5" fill="none"/>
<path d="M1097.8 267.5H1108.8M1103.3 267.5V287.7M1097.8 287.7H1108.8" stroke="#111" stroke-width="1.5" fill="none"/>
<path d="M1190.3 135.0H1201.3M1195.8 135.0V163.4M1190.3 163.4H1201.3" stroke="#111" stroke-width="1.5" fill="none"/>
<path d="M1236.6 181.8H1247.6M1242.1 181.8V202.1M1236.6 202.1H1247.6" stroke="#111" stroke-width="1.5" fill="none"/>
<path d="M1283.5 298.6H1294.5M1289.0 298.6V306.7M1283.5 306.7H1294.5" stroke="#111" stroke-width="1.5" fill="none"/>
<path d="M1370.9 272.0H1381.9M1376.4 272.0V278.9M1370.9 278.9H1381.9" stroke="#111" stroke-width="1.5" fill="none"/>
<path d="M1417.7 170.8H1428.7M1423.2 170.8V188.3M1417.7 188.3H1428.7" stroke="#111" stroke-width="1.5" fill="none"/>
<path d="M1463.8 108.9H1474.8M1469.3 108.9V146.4M1463.8 146.4H1474.8" stroke="#111" stroke-width="1.5" fill="none"/>
<line x1="756.9" y1="17.5" x2="756.9" y2="322.4" stroke="#111" stroke-width="1.9"/>
<line x1="756.2" y1="321.7" x2="1508.5" y2="321.7" stroke="#111" stroke-width="1.9"/>
<g filter="url(#tb)">
<text transform="translate(738.6,26.0) scale(1,1.1)" font-size="20.3" text-anchor="end" fill="#1a1a1a">1.0</text>
<text transform="translate(738.6,86.6) scale(1,1.1)" font-size="20.3" text-anchor="end" fill="#1a1a1a">0.8</text>
<text transform="translate(738.6,147.2) scale(1,1.1)" font-size="20.3" text-anchor="end" fill="#1a1a1a">0.6</text>
<text transform="translate(738.6,207.8) scale(1,1.1)" font-size="20.3" text-anchor="end" fill="#1a1a1a">0.4</text>
<text transform="translate(738.6,268.4) scale(1,1.1)" font-size="20.3" text-anchor="end" fill="#1a1a1a">0.2</text>
<text transform="translate(738.6,329.0) scale(1,1.1)" font-size="20.3" text-anchor="end" fill="#1a1a1a">0.0</text>
<text x="817.4" y="36.6" font-size="23.4" text-anchor="middle" fill="#1a1a1a">a</text>
<text x="863.8" y="36.6" font-size="23.4" text-anchor="middle" fill="#1a1a1a">a</text>
<text x="910.1" y="36.6" font-size="23.4" text-anchor="middle" fill="#1a1a1a">b</text>
<text x="1008.9" y="36.6" font-size="23.4" text-anchor="middle" fill="#1a1a1a">a</text>
<text x="1055" y="36.6" font-size="23.4" text-anchor="middle" fill="#1a1a1a">b</text>
<text x="1102.3" y="36.6" font-size="23.4" text-anchor="middle" fill="#1a1a1a">c</text>
<text x="1195.8" y="36.6" font-size="23.4" text-anchor="middle" fill="#1a1a1a">a</text>
<text x="1242.1" y="36.6" font-size="23.4" text-anchor="middle" fill="#1a1a1a">a</text>
<text x="1289" y="36.6" font-size="23.4" text-anchor="middle" fill="#1a1a1a">b</text>
<text x="1376.4" y="36.6" font-size="23.4" text-anchor="middle" fill="#1a1a1a">a</text>
<text x="1422" y="36.6" font-size="23.4" text-anchor="middle" fill="#1a1a1a">b</text>
<text x="1469.3" y="36.6" font-size="23.4" text-anchor="middle" fill="#1a1a1a">c</text>
<text transform="translate(832.3,352.4) scale(1,1.04)" font-size="20.5" fill="#222">ARI 1</text>
<rect x="869.8" y="339.3" width="1.2" height="1.4" fill="#666"/>
<text transform="translate(1023.0,352.4) scale(1,1.04)" font-size="20.5" fill="#222">VREI 1</text>
<text transform="translate(1242.6,352.4) scale(1,1.04)" font-size="20.8" text-anchor="middle" fill="#222">WBI</text>
<text transform="translate(1423.4,352.4) scale(1,1.04)" font-size="20.8" text-anchor="middle" fill="#222">CSIB</text>
<rect x="1521.5" y="124.8" width="14.2" height="13.2" fill="#fff" stroke="#222" stroke-width="2"/>
<text x="1540.4" y="139.1" font-size="26.6" fill="#111">CCC</text>
<rect x="1521.5" y="173.4" width="14.2" height="13.2" fill="#cdcdcd" stroke="#222" stroke-width="2"/>
<text x="1540.4" y="188.0" font-size="26.6" fill="#111">RCP 4.5</text>
<rect x="1521.5" y="221.5" width="14.2" height="13.2" fill="#858585" stroke="#222" stroke-width="2"/>
<text x="1540.4" y="236.0" font-size="26.6" fill="#111">RCP 8.5</text>
<text x="678.6" y="33.9" font-size="34.5" font-weight="bold" fill="#000">A</text>
<text transform="translate(698.9,170.3) rotate(-90)" font-size="20.5" font-weight="bold" text-anchor="middle" fill="#111">VIs (AU)</text>
</g>
</g>
<g id="panelB">
<rect x="780.8" y="430.4" width="726" height="241.8" fill="#000" stroke="#1e2c6e" stroke-width="1"/>
<defs>
<filter id="jet" filterUnits="userSpaceOnUse" x="780" y="430" width="728" height="243" color-interpolation-filters="sRGB">
<feTurbulence type="fractalNoise" baseFrequency="0.085 0.07" numOctaves="3" seed="5" result="t1"/>
<feColorMatrix in="t1" type="matrix" values="1 0 0 0 0  1 0 0 0 0  1 0 0 0 0  0 0 0 0 1" result="n1"/>
<feTurbulence type="fractalNoise" baseFrequency="0.26 0.2" numOctaves="2" seed="9" result="t2"/>
<feColorMatrix in="t2" type="matrix" values="0 1 0 0 0  0 1 0 0 0  0 1 0 0 0  0 0 0 0 1" result="n2"/>
<feComposite in="SourceGraphic" in2="n1" operator="arithmetic" k1="0" k2="1" k3="0.30" k4="-0.15" result="s1"/>
<feComposite in="s1" in2="n2" operator="arithmetic" k1="0" k2="1" k3="0.20" k4="-0.10" result="s2"/>
<feComponentTransfer in="s2">
<feFuncR type="table" tableValues="0.03 0.04 0.05 0.08 0.24 0.88 1.00 0.95 0.75"/>
<feFuncG type="table" tableValues="0.03 0.10 0.42 0.75 0.84 0.90 0.55 0.15 0.05"/>
<feFuncB type="table" tableValues="0.50 0.90 0.92 0.74 0.17 0.08 0.02 0.04 0.04"/>
<feFuncA type="linear" slope="0" intercept="1"/>
</feComponentTransfer>
</filter>
<filter id="lb1" filterUnits="userSpaceOnUse" x="780" y="430" width="728" height="243" color-interpolation-filters="sRGB"><feGaussianBlur stdDeviation="1"/></filter>
<filter id="lb2" filterUnits="userSpaceOnUse" x="780" y="430" width="728" height="243" color-interpolation-filters="sRGB"><feGaussianBlur stdDeviation="2.2"/></filter>
<filter id="lb5" filterUnits="userSpaceOnUse" x="780" y="430" width="728" height="243" color-interpolation-filters="sRGB"><feGaussianBlur stdDeviation="5"/></filter>
<filter id="lb9" filterUnits="userSpaceOnUse" x="780" y="430" width="728" height="243" color-interpolation-filters="sRGB"><feGaussianBlur stdDeviation="9"/></filter>
<filter id="edge" filterUnits="userSpaceOnUse" x="780" y="430" width="728" height="243"><feGaussianBlur stdDeviation="0.6"/></filter>

<clipPath id="clB"><path d="M850.6 435.3C852.5 436.1 851.4 437.8 852.5 440.4C853.5 442.9 853.3 443.8 855.3 446.0C857.2 448.2 858.3 449.3 860.9 449.8C863.6 450.2 865.0 449.4 866.6 447.9C868.1 446.3 866.2 444.4 867.5 443.2C868.8 442.0 870.7 441.5 872.2 442.8C873.7 444.1 872.3 446.1 874.1 448.8C875.8 451.5 876.7 452.3 879.7 454.5C882.8 456.7 884.2 456.7 887.3 458.2C890.3 459.8 890.5 461.1 892.9 461.1C895.3 461.1 896.1 458.2 897.6 458.2C899.2 458.2 898.0 461.1 899.5 461.1C901.0 461.1 901.3 459.8 904.2 458.2C907.1 456.7 908.2 456.7 911.7 454.5C915.2 452.3 916.4 451.4 919.3 448.8C922.1 446.3 922.2 443.8 924.0 443.5C925.7 443.3 926.6 444.9 926.8 447.9C927.0 450.9 926.2 452.6 924.9 456.3C923.6 460.1 922.7 460.6 921.1 463.9C919.6 467.2 918.5 467.8 918.3 470.5C918.1 473.1 917.3 474.1 920.2 475.2C923.0 476.3 924.6 475.3 930.5 475.2C936.5 475.1 939.5 474.1 945.6 474.8C951.7 475.4 951.6 475.9 956.9 478.0C962.2 480.1 963.8 480.3 968.2 483.6C972.6 486.9 972.4 488.4 975.7 492.1C979.0 495.8 980.1 495.7 982.3 499.6C984.5 503.6 984.9 504.6 985.1 509.0C985.3 513.4 983.5 513.6 983.2 518.4C983.0 523.3 984.6 525.3 984.2 529.7C983.7 534.1 982.5 533.3 981.4 537.3C980.3 541.2 979.9 541.5 979.5 546.7C979.0 551.8 979.9 554.2 979.5 559.4C979.0 564.6 978.9 564.4 977.6 568.8C976.3 573.2 975.6 574.3 973.8 578.2C972.1 582.2 972.0 581.8 970.1 585.8C968.1 589.7 967.6 590.8 965.4 595.2C963.2 599.6 963.1 600.2 960.7 604.6C958.2 609.0 957.6 609.6 955.0 614.0C952.4 618.4 952.4 619.4 949.4 623.4C946.3 627.3 945.3 627.4 941.8 630.9C938.3 634.4 937.4 634.5 934.3 638.4C931.2 642.4 931.3 644.3 928.7 647.9C926.0 651.4 926.1 651.1 923.0 653.5C919.9 655.9 919.0 656.4 915.5 658.2C912.0 660.0 912.4 659.9 908.0 661.0C903.6 662.1 901.9 662.3 896.7 662.9C891.4 663.6 890.7 664.1 885.4 663.9C880.1 663.6 879.4 663.9 874.1 662.0C868.8 660.0 867.6 658.7 862.8 655.4C858.0 652.1 857.3 651.4 853.4 647.9C849.4 644.3 849.4 643.8 845.9 640.3C842.4 636.8 841.8 636.3 838.3 632.8C834.8 629.3 834.1 629.2 830.8 625.3C827.5 621.3 827.3 619.8 824.2 615.9C821.1 611.9 820.1 612.3 817.6 608.3C815.2 604.4 816.1 603.3 813.9 598.9C811.7 594.5 810.6 593.9 808.2 589.5C805.8 585.1 805.3 584.9 803.5 580.1C801.8 575.3 802.0 573.6 800.7 568.8C799.4 564.0 799.0 563.8 797.9 559.4C796.8 555.0 796.2 551.7 796.0 550.0C795.8 548.3 796.5 554.0 796.9 552.3C797.4 550.7 798.1 547.7 797.9 542.9C797.7 538.1 796.7 536.9 796.0 531.6C795.3 526.3 794.8 525.6 795.1 520.3C795.3 515.1 796.8 514.3 796.9 509.0C797.0 503.8 795.2 502.6 795.4 497.7C795.7 492.9 796.2 492.3 797.9 488.3C799.5 484.4 799.3 483.7 802.6 480.8C805.9 478.0 807.2 478.1 812.0 476.1C816.8 474.1 818.0 474.1 823.3 472.3C828.6 470.6 831.5 471.0 834.6 468.6C837.6 466.2 836.5 465.3 836.5 462.0C836.5 458.7 835.2 458.2 834.6 454.5C833.9 450.7 833.2 449.3 833.6 446.0C834.1 442.7 834.0 442.5 836.5 440.4C838.9 438.2 840.7 437.8 844.0 436.6C847.3 435.4 848.6 434.4 850.6 435.3Z"/><path d="M1070.5 443.5C1076.2 442.0 1076.6 443.6 1086.5 443.2C1096.3 442.7 1101.4 442.2 1112.8 441.7C1124.2 441.1 1126.8 441.1 1135.4 440.9C1143.9 440.7 1146.2 439.7 1149.5 440.9C1152.8 442.1 1151.5 443.9 1149.5 446.0C1147.5 448.1 1144.5 448.0 1141.0 449.8C1137.5 451.5 1136.4 451.5 1134.4 453.5C1132.5 455.5 1132.1 456.3 1132.6 458.2C1133.0 460.2 1133.0 460.9 1136.3 462.0C1139.6 463.1 1142.5 463.4 1146.7 462.9C1150.8 462.5 1151.6 461.6 1154.2 460.1C1156.8 458.6 1154.0 458.8 1158.0 456.3C1161.9 453.9 1164.6 452.6 1171.1 449.8C1177.7 446.9 1178.7 446.2 1186.2 444.1C1193.7 442.0 1195.7 441.8 1203.1 440.9C1210.6 440.0 1212.5 439.4 1218.2 440.4C1223.9 441.3 1224.7 442.2 1227.6 445.1C1230.4 447.9 1228.2 448.6 1230.4 452.6C1232.6 456.5 1234.1 457.8 1237.0 462.0C1239.9 466.2 1241.5 466.5 1242.6 470.5C1243.7 474.4 1242.6 475.2 1241.7 478.9C1240.8 482.7 1239.1 482.5 1238.9 486.5C1238.7 490.4 1239.4 491.5 1240.8 495.9C1242.1 500.3 1243.4 500.9 1244.5 505.3C1245.6 509.7 1245.7 510.3 1245.5 514.7C1245.2 519.1 1243.8 519.3 1243.6 524.1C1243.4 528.9 1245.0 530.6 1244.5 535.4C1244.1 540.2 1242.4 539.6 1241.7 544.8C1241.0 550.0 1242.4 552.8 1241.7 557.5C1241.0 562.3 1240.0 560.7 1238.9 565.1C1237.8 569.4 1238.8 571.5 1237.0 576.3C1235.2 581.2 1234.0 581.8 1231.4 585.8C1228.7 589.7 1228.3 589.3 1225.7 593.3C1223.1 597.2 1223.1 597.9 1220.1 602.7C1217.0 607.5 1216.0 608.7 1212.5 614.0C1209.0 619.3 1209.0 620.0 1205.0 625.3C1201.1 630.5 1200.4 632.2 1195.6 636.6C1190.8 641.0 1190.0 640.4 1184.3 644.1C1178.6 647.8 1177.3 649.0 1171.1 652.6C1165.0 656.1 1164.1 656.7 1158.0 659.1C1151.8 661.6 1150.5 661.8 1144.8 662.9C1139.1 664.0 1139.6 664.3 1133.5 663.9C1127.4 663.4 1125.0 663.0 1118.4 661.0C1111.9 659.1 1111.0 658.5 1105.3 655.4C1099.6 652.3 1098.8 651.4 1094.0 647.9C1089.2 644.3 1089.0 643.8 1084.6 640.3C1080.2 636.8 1079.1 636.8 1075.2 632.8C1071.2 628.8 1070.7 627.8 1067.6 623.4C1064.6 619.0 1064.6 618.4 1062.0 614.0C1059.4 609.6 1059.4 609.4 1056.3 604.6C1053.3 599.7 1051.7 598.6 1048.8 593.3C1046.0 588.0 1045.7 587.3 1044.1 582.0C1042.6 576.7 1043.1 576.0 1042.2 570.7C1041.4 565.4 1041.4 564.2 1040.4 559.4C1039.3 554.6 1038.2 553.0 1037.5 550.0C1036.9 547.0 1037.1 550.1 1037.5 546.7C1038.0 543.3 1039.2 540.7 1039.4 535.4C1039.6 530.1 1038.0 529.8 1038.5 524.1C1038.9 518.4 1039.5 516.6 1041.3 510.9C1043.0 505.2 1045.3 504.5 1046.0 499.6C1046.7 494.8 1044.8 495.0 1044.1 490.2C1043.5 485.4 1042.1 484.6 1043.2 478.9C1044.3 473.2 1046.2 471.5 1048.8 465.8C1051.5 460.0 1051.4 458.2 1054.5 454.5C1057.5 450.7 1058.3 452.3 1062.0 449.8C1065.7 447.2 1064.8 445.1 1070.5 443.5Z"/><path d="M1367.8 461.1C1368.9 460.4 1371.2 463.5 1375.3 463.5C1379.5 463.5 1383.0 460.9 1385.7 461.1C1388.3 461.3 1387.7 462.4 1386.6 464.5C1385.5 466.6 1383.2 467.5 1381.0 470.1C1378.8 472.7 1378.3 473.3 1377.2 475.8C1376.1 478.2 1375.4 478.5 1376.3 480.5C1377.1 482.4 1377.9 483.1 1381.0 484.2C1384.0 485.3 1386.4 485.6 1389.4 485.2C1392.5 484.7 1392.2 484.5 1394.1 482.3C1396.1 480.1 1395.3 479.5 1397.9 475.8C1400.5 472.0 1401.5 470.5 1405.4 466.3C1409.4 462.2 1410.5 461.3 1414.8 457.9C1419.2 454.5 1419.9 453.7 1424.3 451.7C1428.6 449.6 1428.8 449.3 1433.7 449.0C1438.5 448.7 1439.7 448.9 1445.0 450.4C1450.2 451.8 1451.4 452.6 1456.2 455.1C1461.1 457.5 1462.1 457.6 1465.7 460.7C1469.2 463.8 1468.7 464.7 1471.3 468.2C1473.9 471.7 1474.5 472.2 1476.9 475.8C1479.4 479.3 1480.3 478.9 1481.7 483.3C1483.0 487.7 1482.4 489.7 1482.6 494.6C1482.8 499.4 1482.2 499.2 1482.6 504.0C1483.0 508.8 1483.2 510.9 1484.5 515.3C1485.8 519.7 1486.9 518.8 1488.2 522.8C1489.6 526.8 1490.6 528.3 1490.1 532.2C1489.7 536.2 1488.6 536.7 1486.4 539.7C1484.2 542.8 1483.3 542.7 1480.7 545.4C1478.1 548.0 1476.4 548.6 1475.1 551.0C1473.7 553.4 1473.7 553.7 1475.1 555.6C1476.4 557.6 1480.3 556.8 1480.7 559.4C1481.1 562.0 1479.1 563.4 1476.9 566.9C1474.8 570.4 1473.9 570.5 1471.3 574.5C1468.7 578.4 1468.3 579.5 1465.7 583.9C1463.0 588.3 1463.5 588.5 1460.0 593.3C1456.5 598.1 1455.0 599.3 1450.6 604.6C1446.2 609.8 1445.6 611.0 1441.2 615.9C1436.8 620.7 1435.7 621.1 1431.8 625.3C1427.8 629.4 1428.2 630.7 1424.3 633.7C1420.3 636.8 1420.1 636.7 1414.8 638.4C1409.6 640.2 1408.7 640.8 1401.7 641.3C1394.6 641.7 1392.2 641.2 1384.7 640.3C1377.3 639.4 1376.3 639.3 1369.7 637.5C1363.1 635.7 1362.2 635.2 1356.5 632.8C1350.8 630.4 1350.5 631.1 1345.2 627.2C1339.9 623.2 1338.8 621.1 1333.9 615.9C1329.1 610.6 1328.5 609.8 1324.5 604.6C1320.6 599.3 1320.5 598.6 1317.0 593.3C1313.5 588.0 1312.1 586.6 1309.5 582.0C1306.8 577.4 1305.0 576.6 1305.7 573.5C1306.4 570.4 1311.4 571.2 1312.3 568.8C1313.2 566.4 1312.3 564.9 1309.5 563.2C1306.6 561.4 1302.7 563.7 1300.1 561.3C1297.4 558.9 1298.8 557.5 1298.2 552.9C1297.5 548.3 1297.7 547.3 1297.2 541.6C1296.8 535.9 1296.1 534.2 1296.3 528.4C1296.5 522.7 1297.1 522.4 1298.2 517.2C1299.3 511.9 1299.2 511.1 1301.0 505.9C1302.8 500.6 1302.8 499.4 1305.7 494.6C1308.6 489.7 1308.8 489.6 1313.2 485.2C1317.6 480.8 1319.2 479.0 1324.5 475.8C1329.8 472.5 1330.1 473.0 1335.8 471.1C1341.5 469.1 1343.3 468.4 1349.0 467.3C1354.7 466.2 1355.9 466.1 1360.3 466.3C1364.7 466.6 1365.4 468.2 1367.8 468.2C1370.2 468.2 1370.6 468.0 1370.6 466.3C1370.6 464.7 1366.7 461.7 1367.8 461.1Z"/></clipPath>
</defs>
<g clip-path="url(#clB)"><g filter="url(#jet)">
<rect x="781" y="430" width="240" height="243" fill="#656565"/>
<path d="M834.6 441.3C838.0 440.0 851.2 448.2 855.3 452.6C859.4 457.0 861.2 464.2 859.0 467.6C856.8 471.1 846.2 474.5 842.1 473.3C838.0 472.0 835.8 465.4 834.6 460.1C833.3 454.8 831.1 442.5 834.6 441.3Z" fill="#383838" filter="url(#lb5)" opacity="1"/>
<path d="M900.4 462.0C902.6 457.3 918.6 447.9 923.0 446.9C927.4 446.0 927.4 452.0 926.8 456.3C926.2 460.7 922.1 470.1 919.3 473.3C916.4 476.4 913.0 477.0 909.8 475.2C906.7 473.3 898.2 466.7 900.4 462.0Z" fill="#383838" filter="url(#lb5)" opacity="1"/>
<path d="M808.2 486.5C814.2 485.8 835.5 496.2 842.1 501.5C848.7 506.8 850.9 515.6 847.7 518.4C844.6 521.3 830.2 520.6 823.3 518.4C816.4 516.3 808.9 510.6 806.3 505.3C803.8 499.9 802.3 487.1 808.2 486.5Z" fill="#3b3b3b" filter="url(#lb5)" opacity="1"/>
<path d="M904.2 512.8C907.3 510.3 923.0 515.3 930.5 520.3C938.1 525.3 947.5 536.6 949.4 542.9C951.2 549.2 948.1 559.2 941.8 558.0C935.6 556.7 918.0 542.9 911.7 535.4C905.5 527.9 901.1 515.3 904.2 512.8Z" fill="#383838" filter="url(#lb5)" opacity="1"/>
<path d="M842.1 542.9C845.6 538.8 861.2 535.4 868.4 535.4C875.7 535.4 883.2 538.8 885.4 542.9C887.6 547.0 887.9 557.2 881.6 560.0C875.3 562.9 854.3 562.9 847.7 560.0C841.2 557.2 838.7 547.0 842.1 542.9Z" fill="#363636" filter="url(#lb5)" opacity="1"/>
<path d="M896.7 527.9C899.2 523.7 908.6 530.0 911.7 535.4C914.9 540.7 918.0 555.9 915.5 560.0C913.0 564.1 899.8 565.4 896.7 560.0C893.5 554.7 894.2 532.0 896.7 527.9Z" fill="#383838" filter="url(#lb5)" opacity="1"/>
<path d="M934.3 478.9C938.7 478.3 956.9 482.1 964.4 486.5C971.9 490.8 980.1 502.8 979.5 505.3C978.8 507.8 967.6 504.0 960.7 501.5C953.8 499.0 942.5 494.0 938.1 490.2C933.7 486.5 929.9 479.6 934.3 478.9Z" fill="#404040" filter="url(#lb5)" opacity="1"/>
<path d="M817.6 524.1C822.7 522.8 834.6 531.0 836.5 535.4C838.3 539.8 833.9 549.2 828.9 550.4C823.9 551.7 808.2 547.3 806.3 542.9C804.5 538.5 812.6 525.3 817.6 524.1Z" fill="#404040" filter="url(#lb5)" opacity="1"/>
<path d="M832.7 553.8C838.3 550.6 854.0 552.5 859.0 557.5C864.1 562.5 866.6 577.3 862.8 583.9C859.0 590.5 842.7 598.3 836.5 597.0C830.2 595.8 825.8 583.6 825.2 576.3C824.5 569.1 827.0 556.9 832.7 553.8Z" fill="#383838" filter="url(#lb5)" opacity="1"/>
<path d="M853.4 593.3C857.8 589.8 879.7 590.1 885.4 593.3C891.0 596.4 891.7 608.7 887.3 612.1C882.9 615.6 864.7 617.1 859.0 614.0C853.4 610.8 849.0 596.7 853.4 593.3Z" fill="#333333" filter="url(#lb5)" opacity="1"/>
<path d="M859.0 625.3C862.2 622.1 881.0 624.0 885.4 629.0C889.8 634.1 888.5 652.2 885.4 655.4C882.2 658.5 871.0 652.9 866.6 647.9C862.2 642.8 855.9 628.4 859.0 625.3Z" fill="#383838" filter="url(#lb5)" opacity="1"/>
<path d="M894.8 553.8C897.6 551.3 906.4 563.8 911.7 572.6C917.1 581.4 926.8 595.8 926.8 606.5C926.8 617.1 916.7 632.8 911.7 636.6C906.7 640.3 899.5 637.2 896.7 629.0C893.9 620.9 895.1 600.2 894.8 587.6C894.5 575.1 892.0 556.3 894.8 553.8Z" fill="#404040" filter="url(#lb5)" opacity="1"/>
<path d="M934.3 553.8C936.8 552.5 945.0 561.9 949.4 568.8C953.8 575.7 961.3 590.1 960.7 595.2C960.0 600.2 950.0 602.1 945.6 598.9C941.2 595.8 936.2 583.9 934.3 576.3C932.4 568.8 931.8 555.0 934.3 553.8Z" fill="#404040" filter="url(#lb5)" opacity="1"/>
<path d="M868.4 462.0C872.4 459.2 888.0 457.9 892.0 462.0C895.9 466.1 894.3 482.1 892.0 486.5C889.6 490.8 881.8 489.6 877.9 488.3C873.9 487.1 870.0 483.3 868.4 478.9C866.9 474.5 864.5 464.8 868.4 462.0Z" fill="#787878" filter="url(#lb5)" opacity="1"/>
<path d="M897.6 492.1C900.1 487.7 911.9 493.0 915.5 497.7C919.1 502.5 921.8 515.9 919.3 520.3C916.7 524.7 904.0 528.8 900.4 524.1C896.8 519.4 895.1 496.5 897.6 492.1Z" fill="#6b6b6b" filter="url(#lb5)" opacity="1"/>
<path d="M795.1 492.1C796.3 482.7 802.6 479.2 804.5 486.5C806.3 493.7 807.6 526.0 806.3 535.4C805.1 544.8 798.8 550.1 796.9 542.9C795.1 535.7 793.8 501.5 795.1 492.1Z" fill="#737373" filter="url(#lb5)" opacity="1"/>
<path d="M855.3 505.3C859.4 500.9 879.7 495.6 885.4 497.7C891.0 499.9 893.2 514.1 889.1 518.4C885.1 522.8 866.6 526.3 860.9 524.1C855.3 521.9 851.2 509.7 855.3 505.3Z" fill="#6b6b6b" filter="url(#lb5)" opacity="1"/>
<path d="M817.6 593.3C821.1 592.7 832.4 600.5 836.5 606.5C840.5 612.4 843.4 625.3 842.1 629.0C840.8 632.8 833.3 632.2 828.9 629.0C824.5 625.9 817.6 616.2 815.8 610.2C813.9 604.3 814.2 593.9 817.6 593.3Z" fill="#787878" filter="url(#lb5)" opacity="1"/>
<path d="M836.5 568.8C839.9 567.6 855.9 574.5 859.0 578.2C862.2 582.0 858.7 590.1 855.3 591.4C851.8 592.7 841.5 589.5 838.3 585.8C835.2 582.0 833.0 570.1 836.5 568.8Z" fill="#737373" filter="url(#lb5)" opacity="1"/>
<path d="M968.2 512.8C970.1 505.9 979.5 504.0 981.4 509.0C983.2 514.1 981.4 536.0 979.5 542.9C977.6 549.8 971.9 555.5 970.1 550.4C968.2 545.4 966.3 519.7 968.2 512.8Z" fill="#6b6b6b" filter="url(#lb5)" opacity="1"/>
<path d="M892.9 489.8C888.2 490.7 874.1 492.8 864.7 494.9C855.3 497.0 844.3 499.5 836.5 502.5C828.6 505.4 820.8 511.1 817.6 512.8" stroke="#9e9e9e" stroke-width="1.6" fill="none" filter="url(#lb1)" opacity="1" stroke-linecap="round"/>
<path d="M896.7 486.5C900.8 488.0 913.0 492.1 921.1 495.9C929.3 499.6 939.6 506.2 945.6 509.0C951.6 511.9 955.0 512.2 956.9 512.8" stroke="#999999" stroke-width="1.5" fill="none" filter="url(#lb1)" opacity="1" stroke-linecap="round"/>
<path d="M892.5 521.3C889.5 522.7 880.3 526.1 874.1 529.7C867.9 533.3 860.6 538.8 855.3 542.9C849.9 547.0 844.3 552.3 842.1 554.2" stroke="#9e9e9e" stroke-width="1.6" fill="none" filter="url(#lb1)" opacity="1" stroke-linecap="round"/>
<path d="M895.2 522.2C897.9 523.8 905.8 528.2 911.7 531.6C917.6 535.1 925.8 539.1 930.5 542.9C935.3 546.7 938.4 552.3 940.0 554.2" stroke="#8c8c8c" stroke-width="1.4" fill="none" filter="url(#lb1)" opacity="1" stroke-linecap="round"/>
<path d="M895.2 461.1C895.0 466.2 894.7 481.9 894.4 492.1C894.2 502.3 893.8 517.2 893.7 522.2" stroke="#f7f7f7" stroke-width="3.4" fill="none" filter="url(#lb1)" opacity="1" stroke-linecap="round"/>
<path d="M893.7 520.3C893.5 526.9 893.0 553.4 892.9 560.0" stroke="#b8b8b8" stroke-width="2.6" fill="none" filter="url(#lb1)" opacity="1" stroke-linecap="round"/>
<path d="M892.5 550.0C892.3 559.4 891.6 590.1 891.0 606.5C890.5 622.8 889.5 641.0 889.1 647.9" stroke="#a8a8a8" stroke-width="2.2" fill="none" filter="url(#lb1)" opacity="1" stroke-linecap="round"/>
<rect x="1022" y="430" width="240" height="243" fill="#787878"/>
<path d="M1037.5 441.3C1056.3 421.5 1132.2 421.5 1150.4 441.3C1168.6 461.1 1165.5 540.2 1146.7 560.0C1127.9 579.8 1055.7 579.8 1037.5 560.0C1019.3 540.2 1018.7 461.1 1037.5 441.3Z" fill="#666666" filter="url(#lb9)" opacity="1"/>
<path d="M1046.9 473.3C1054.5 472.0 1077.4 478.3 1092.1 478.9C1106.8 479.6 1126.9 475.8 1135.4 477.0C1143.9 478.3 1150.1 483.9 1142.9 486.5C1135.7 489.0 1108.1 492.1 1092.1 492.1C1076.1 492.1 1054.5 489.6 1046.9 486.5C1039.4 483.3 1039.4 474.5 1046.9 473.3Z" fill="#474747" filter="url(#lb5)" opacity="1"/>
<path d="M1105.3 446.9C1108.7 443.8 1130.4 442.5 1135.4 445.1C1140.4 447.6 1138.8 458.9 1135.4 462.0C1131.9 465.1 1119.7 466.4 1114.7 463.9C1109.7 461.4 1101.8 450.1 1105.3 446.9Z" fill="#3d3d3d" filter="url(#lb5)" opacity="1"/>
<path d="M1041.3 518.4C1049.8 514.1 1081.4 509.0 1095.9 505.3C1110.3 501.5 1122.5 495.9 1127.9 495.9C1133.2 495.9 1132.9 501.5 1127.9 505.3C1122.8 509.0 1111.5 514.1 1097.7 518.4C1083.9 522.8 1054.5 531.6 1045.1 531.6C1035.6 531.6 1032.8 522.8 1041.3 518.4Z" fill="#474747" filter="url(#lb5)" opacity="1"/>
<path d="M1054.5 454.5C1060.1 453.2 1081.1 456.0 1086.5 458.2C1091.8 460.4 1092.1 466.4 1086.5 467.6C1080.8 468.9 1057.9 468.0 1052.6 465.8C1047.3 463.6 1048.8 455.7 1054.5 454.5Z" fill="#575757" filter="url(#lb5)" opacity="1"/>
<path d="M1092.1 546.7C1095.2 541.9 1115.0 532.2 1120.3 531.6C1125.7 531.0 1127.2 538.2 1124.1 542.9C1121.0 547.6 1106.8 559.4 1101.5 560.0C1096.2 560.7 1089.0 551.4 1092.1 546.7Z" fill="#4a4a4a" filter="url(#lb5)" opacity="1"/>
<path d="M1150.4 531.6C1152.3 529.7 1164.9 539.8 1173.0 542.9C1181.2 546.0 1193.7 547.6 1199.4 550.4C1205.0 553.3 1213.2 559.4 1206.9 560.0C1200.6 560.7 1171.1 558.9 1161.7 554.2C1152.3 549.5 1148.6 533.5 1150.4 531.6Z" fill="#4a4a4a" filter="url(#lb5)" opacity="1"/>
<path d="M1146.7 478.9C1148.6 476.7 1156.7 487.1 1158.0 492.1C1159.2 497.1 1156.1 506.8 1154.2 509.0C1152.3 511.2 1147.9 510.3 1146.7 505.3C1145.4 500.3 1144.8 481.1 1146.7 478.9Z" fill="#4a4a4a" filter="url(#lb5)" opacity="1"/>
<path d="M1150.4 465.8C1154.2 463.2 1171.1 479.2 1173.0 486.5C1174.9 493.7 1165.5 506.5 1161.7 509.0C1158.0 511.5 1152.3 508.7 1150.4 501.5C1148.6 494.3 1146.7 468.3 1150.4 465.8Z" fill="#909090" filter="url(#lb5)" opacity="1"/>
<path d="M1199.4 445.1C1202.8 442.2 1220.7 441.9 1227.6 446.9C1234.5 452.0 1241.7 468.6 1240.8 475.2C1239.8 481.8 1227.6 488.3 1221.9 486.5C1216.3 484.6 1210.7 470.8 1206.9 463.9C1203.1 457.0 1195.9 447.9 1199.4 445.1Z" fill="#8b8b8b" filter="url(#lb5)" opacity="1"/>
<path d="M1124.1 509.0C1126.9 505.3 1138.2 502.1 1141.0 505.3C1143.9 508.4 1143.9 524.1 1141.0 527.9C1138.2 531.6 1126.9 531.0 1124.1 527.9C1121.3 524.7 1121.3 512.8 1124.1 509.0Z" fill="#909090" filter="url(#lb5)" opacity="1"/>
<path d="M1161.7 509.0C1164.2 506.5 1176.8 509.0 1180.5 512.8C1184.3 516.6 1186.8 529.1 1184.3 531.6C1181.8 534.1 1169.3 531.6 1165.5 527.9C1161.7 524.1 1159.2 511.5 1161.7 509.0Z" fill="#8b8b8b" filter="url(#lb5)" opacity="1"/>
<path d="M1233.2 492.1C1234.8 485.2 1242.6 486.8 1244.5 494.0C1246.4 501.2 1246.1 528.5 1244.5 535.4C1243.0 542.3 1237.0 542.6 1235.1 535.4C1233.2 528.2 1231.7 499.0 1233.2 492.1Z" fill="#868686" filter="url(#lb5)" opacity="1"/>
<path d="M1120.3 541.0C1122.8 536.9 1136.0 532.2 1139.1 535.4C1142.3 538.5 1141.7 555.9 1139.1 560.0C1136.6 564.1 1127.2 563.2 1124.1 560.0C1121.0 556.9 1117.8 545.1 1120.3 541.0Z" fill="#868686" filter="url(#lb5)" opacity="1"/>
<path d="M1075.2 568.8C1082.1 563.8 1099.0 559.4 1109.0 557.5C1119.1 555.6 1131.0 555.6 1135.4 557.5C1139.8 559.4 1141.0 565.4 1135.4 568.8C1129.7 572.3 1111.9 573.2 1101.5 578.2C1091.2 583.2 1078.9 597.4 1073.3 598.9C1067.6 600.5 1067.3 592.7 1067.6 587.6C1068.0 582.6 1068.3 573.8 1075.2 568.8Z" fill="#939393" filter="url(#lb5)" opacity="1"/>
<path d="M1073.3 612.1C1074.9 607.1 1084.9 601.4 1092.1 598.9C1099.3 596.4 1115.0 594.2 1116.6 597.0C1118.1 599.9 1107.2 610.5 1101.5 615.9C1095.9 621.2 1087.4 629.7 1082.7 629.0C1078.0 628.4 1071.7 617.1 1073.3 612.1Z" fill="#939393" filter="url(#lb5)" opacity="1"/>
<path d="M1109.0 636.6C1111.5 632.2 1124.7 626.5 1127.9 629.0C1131.0 631.5 1130.4 647.2 1127.9 651.6C1125.3 656.0 1115.9 657.9 1112.8 655.4C1109.7 652.9 1106.5 641.0 1109.0 636.6Z" fill="#909090" filter="url(#lb5)" opacity="1"/>
<path d="M1150.4 606.5C1152.3 604.3 1168.0 608.3 1173.0 612.1C1178.0 615.9 1182.4 626.8 1180.5 629.0C1178.7 631.2 1166.7 629.0 1161.7 625.3C1156.7 621.5 1148.6 608.7 1150.4 606.5Z" fill="#909090" filter="url(#lb5)" opacity="1"/>
<path d="M1142.9 632.8C1145.4 630.3 1155.5 633.4 1158.0 636.6C1160.5 639.7 1160.5 649.1 1158.0 651.6C1155.5 654.1 1145.4 654.8 1142.9 651.6C1140.4 648.5 1140.4 635.3 1142.9 632.8Z" fill="#8b8b8b" filter="url(#lb5)" opacity="1"/>
<path d="M1184.3 580.1C1186.2 572.6 1196.2 579.5 1199.4 587.6C1202.5 595.8 1205.0 621.5 1203.1 629.0C1201.2 636.6 1191.2 641.0 1188.1 632.8C1184.9 624.6 1182.4 587.6 1184.3 580.1Z" fill="#474747" filter="url(#lb5)" opacity="1"/>
<path d="M1141.0 565.1C1142.9 563.5 1150.8 566.3 1152.3 568.8C1153.9 571.3 1152.3 578.5 1150.4 580.1C1148.6 581.7 1142.6 580.7 1141.0 578.2C1139.5 575.7 1139.1 566.6 1141.0 565.1Z" fill="#383838" filter="url(#lb5)" opacity="1"/>
<path d="M1139.1 602.7C1141.7 599.6 1152.3 602.1 1154.2 606.5C1156.1 610.8 1152.9 625.9 1150.4 629.0C1147.9 632.2 1141.0 629.7 1139.1 625.3C1137.3 620.9 1136.6 605.8 1139.1 602.7Z" fill="#3d3d3d" filter="url(#lb5)" opacity="1"/>
<path d="M1101.5 619.6C1106.5 616.8 1129.7 612.1 1135.4 612.1C1141.0 612.1 1140.4 616.8 1135.4 619.6C1130.4 622.5 1110.9 629.0 1105.3 629.0C1099.6 629.0 1096.5 622.5 1101.5 619.6Z" fill="#424242" filter="url(#lb5)" opacity="1"/>
<path d="M1114.7 629.0C1117.8 627.2 1131.9 625.0 1135.4 625.3C1138.8 625.6 1138.5 629.0 1135.4 630.9C1132.2 632.8 1120.0 636.9 1116.6 636.6C1113.1 636.3 1111.5 630.9 1114.7 629.0Z" fill="#424242" filter="url(#lb2)" opacity="1"/>
<path d="M1054.5 572.6C1057.0 568.8 1069.8 562.2 1073.3 561.3C1076.7 560.4 1077.7 563.2 1075.2 566.9C1072.7 570.7 1061.7 582.9 1058.2 583.9C1054.8 584.8 1052.0 576.3 1054.5 572.6Z" fill="#474747" filter="url(#lb5)" opacity="1"/>
<path d="M1058.2 612.1C1058.9 611.5 1071.1 629.4 1078.9 636.6C1086.8 643.8 1095.9 651.0 1105.3 655.4C1114.7 659.8 1135.4 662.3 1135.4 662.9C1135.4 663.5 1115.3 662.9 1105.3 659.1C1095.2 655.4 1083.0 648.2 1075.2 640.3C1067.3 632.5 1057.6 612.7 1058.2 612.1Z" fill="#4c4c4c" filter="url(#lb5)" opacity="1"/>
<path d="M1146.7 482.7C1142.3 486.5 1128.8 500.3 1120.3 505.3C1111.9 510.3 1106.2 507.8 1095.9 512.8C1085.5 517.8 1064.5 531.6 1058.2 535.4" stroke="#adadad" stroke-width="1.3" fill="none" filter="url(#lb1)" opacity="1" stroke-linecap="round"/>
<path d="M1142.9 526.0C1138.2 527.9 1125.0 531.6 1114.7 537.3C1104.3 542.9 1086.5 556.2 1080.8 560.0" stroke="#adadad" stroke-width="1.3" fill="none" filter="url(#lb1)" opacity="1" stroke-linecap="round"/>
<path d="M1133.5 463.9C1127.2 465.1 1104.3 468.6 1095.9 471.4C1087.4 474.2 1084.9 479.2 1082.7 480.8" stroke="#9e9e9e" stroke-width="1.2" fill="none" filter="url(#lb1)" opacity="1" stroke-linecap="round"/>
<path d="M1154.2 461.1C1158.6 464.3 1171.5 472.8 1180.5 480.8C1189.6 488.8 1200.9 501.2 1208.8 509.0C1216.6 516.9 1224.5 524.7 1227.6 527.9" stroke="#adadad" stroke-width="1.3" fill="none" filter="url(#lb1)" opacity="1" stroke-linecap="round"/>
<path d="M1146.7 499.6C1151.1 502.1 1164.2 508.7 1173.0 514.7C1181.8 520.6 1195.0 531.9 1199.4 535.4" stroke="#9e9e9e" stroke-width="1.2" fill="none" filter="url(#lb1)" opacity="1" stroke-linecap="round"/>
<path d="M1144.8 535.4C1148.2 536.6 1159.5 539.5 1165.5 542.9C1171.5 546.4 1178.0 553.9 1180.5 556.1" stroke="#a8a8a8" stroke-width="1.2" fill="none" filter="url(#lb1)" opacity="1" stroke-linecap="round"/>
<path d="M1080.8 550.0C1078.6 551.9 1072.0 557.2 1067.6 561.3C1063.2 565.4 1056.7 572.3 1054.5 574.5" stroke="#999999" stroke-width="1.2" fill="none" filter="url(#lb1)" opacity="1" stroke-linecap="round"/>
<path d="M1180.5 550.0C1182.4 553.8 1188.7 565.1 1191.8 572.6C1195.0 580.1 1198.1 591.4 1199.4 595.2" stroke="#a8a8a8" stroke-width="1.2" fill="none" filter="url(#lb1)" opacity="1" stroke-linecap="round"/>
<path d="M1139.1 568.8C1134.1 569.8 1117.8 571.3 1109.0 574.5C1100.3 577.6 1090.2 585.4 1086.5 587.6" stroke="#9e9e9e" stroke-width="1.1" fill="none" filter="url(#lb1)" opacity="1" stroke-linecap="round"/>
<path d="M1139.1 587.6C1134.8 588.6 1119.7 590.5 1112.8 593.3C1105.9 596.1 1100.3 602.7 1097.7 604.6" stroke="#9e9e9e" stroke-width="1.1" fill="none" filter="url(#lb1)" opacity="1" stroke-linecap="round"/>
<path d="M1148.9 463.9C1148.6 468.6 1147.7 483.0 1147.0 492.1C1146.4 501.2 1145.5 514.1 1145.2 518.4" stroke="#f7f7f7" stroke-width="3.8" fill="none" filter="url(#lb1)" opacity="1" stroke-linecap="round"/>
<path d="M1145.2 516.6C1144.9 520.3 1144.3 531.9 1143.9 539.1C1143.4 546.4 1142.8 556.6 1142.5 560.0" stroke="#d6d6d6" stroke-width="2.6" fill="none" filter="url(#lb1)" opacity="1" stroke-linecap="round"/>
<path d="M1142.5 550.0C1142.1 556.3 1141.0 575.1 1140.1 587.6C1139.2 600.2 1137.7 619.0 1137.3 625.3" stroke="#c2c2c2" stroke-width="2.0" fill="none" filter="url(#lb1)" opacity="1" stroke-linecap="round"/>
<path d="M1137.3 625.3C1137.0 630.3 1135.7 650.4 1135.4 655.4" stroke="#9e9e9e" stroke-width="1.4" fill="none" filter="url(#lb1)" opacity="1" stroke-linecap="round"/>
<rect x="1290" y="430" width="220" height="243" fill="#808080"/>
<path d="M1303.8 496.5C1309.5 490.8 1330.8 481.7 1341.5 477.6C1352.1 473.6 1362.8 471.1 1367.8 472.0C1372.8 472.9 1376.0 479.8 1371.6 483.3C1367.2 486.7 1352.1 488.0 1341.5 492.7C1330.8 497.4 1313.9 510.9 1307.6 511.5C1301.3 512.1 1298.2 502.1 1303.8 496.5Z" fill="#5c5c5c" filter="url(#lb5)" opacity="1"/>
<path d="M1303.8 530.3C1309.8 526.9 1328.3 524.7 1341.5 520.9C1354.6 517.2 1376.0 508.1 1382.9 507.7C1389.8 507.4 1389.1 515.0 1382.9 519.0C1376.6 523.1 1358.1 528.4 1345.2 532.2C1332.4 536.0 1312.6 541.9 1305.7 541.6C1298.8 541.3 1297.9 533.8 1303.8 530.3Z" fill="#5c5c5c" filter="url(#lb5)" opacity="1"/>
<path d="M1300.1 549.1C1306.3 545.4 1330.8 540.4 1341.5 537.9C1352.1 535.3 1364.0 531.6 1364.0 534.1C1364.0 536.6 1351.5 548.5 1341.5 552.9C1331.4 557.3 1310.7 561.1 1303.8 560.4C1296.9 559.8 1293.8 552.9 1300.1 549.1Z" fill="#616161" filter="url(#lb5)" opacity="1"/>
<path d="M1397.9 515.3C1403.6 513.7 1421.1 516.8 1435.5 519.0C1450.0 521.2 1476.0 525.3 1484.5 528.4C1492.9 531.6 1494.5 536.9 1486.4 537.9C1478.2 538.8 1449.7 535.7 1435.5 534.1C1421.4 532.5 1407.9 531.6 1401.7 528.4C1395.4 525.3 1392.3 516.8 1397.9 515.3Z" fill="#5e5e5e" filter="url(#lb5)" opacity="1"/>
<path d="M1428.0 488.9C1429.9 486.4 1456.9 485.8 1465.7 487.0C1474.4 488.3 1482.6 493.9 1480.7 496.5C1478.8 499.0 1463.1 503.4 1454.4 502.1C1445.6 500.8 1426.1 491.4 1428.0 488.9Z" fill="#545454" filter="url(#lb5)" opacity="1"/>
<path d="M1454.4 458.8C1457.5 458.5 1467.5 465.1 1469.4 468.2C1471.3 471.4 1468.8 477.3 1465.7 477.6C1462.5 478.0 1452.5 473.2 1450.6 470.1C1448.7 467.0 1451.2 459.1 1454.4 458.8Z" fill="#5c5c5c" filter="url(#lb5)" opacity="1"/>
<path d="M1405.4 507.7C1408.6 505.2 1423.0 502.7 1428.0 504.0C1433.0 505.2 1438.7 512.8 1435.5 515.3C1432.4 517.8 1414.2 520.3 1409.2 519.0C1404.2 517.8 1402.3 510.3 1405.4 507.7Z" fill="#616161" filter="url(#lb5)" opacity="1"/>
<path d="M1397.9 519.0C1400.7 519.7 1407.3 527.2 1413.0 534.1C1418.6 541.0 1429.3 554.4 1431.8 560.4C1434.3 566.4 1431.2 571.3 1428.0 570.0C1424.9 568.8 1418.3 559.5 1413.0 552.9C1407.6 546.3 1398.5 536.0 1396.0 530.3C1393.5 524.7 1395.1 518.4 1397.9 519.0Z" fill="#3d3d3d" filter="url(#lb2)" opacity="1"/>
<path d="M1450.6 537.9C1453.1 536.6 1463.1 536.6 1465.7 537.9C1468.2 539.1 1468.2 544.1 1465.7 545.4C1463.1 546.6 1453.1 546.6 1450.6 545.4C1448.1 544.1 1448.1 539.1 1450.6 537.9Z" fill="#474747" filter="url(#lb2)" opacity="1"/>
<path d="M1454.4 488.9C1455.6 488.3 1461.9 489.6 1463.8 490.8C1465.7 492.1 1466.9 495.8 1465.7 496.5C1464.4 497.1 1458.1 495.8 1456.2 494.6C1454.4 493.3 1453.1 489.6 1454.4 488.9Z" fill="#424242" filter="url(#lb2)" opacity="1"/>
<path d="M1416.7 550.0C1419.2 549.4 1428.6 556.9 1431.8 561.3C1434.9 565.7 1436.8 573.2 1435.5 576.3C1434.3 579.5 1427.4 582.0 1424.3 580.1C1421.1 578.2 1418.0 570.1 1416.7 565.1C1415.5 560.0 1414.2 550.6 1416.7 550.0Z" fill="#424242" filter="url(#lb2)" opacity="1"/>
<path d="M1349.0 597.0C1352.4 595.2 1365.9 598.0 1371.6 600.8C1377.2 603.6 1381.3 609.0 1382.9 614.0C1384.4 619.0 1384.1 628.4 1381.0 630.9C1377.8 633.4 1369.1 632.2 1364.0 629.0C1359.0 625.9 1353.4 617.4 1350.9 612.1C1348.4 606.8 1345.5 598.9 1349.0 597.0Z" fill="#363636" filter="url(#lb5)" opacity="1"/>
<path d="M1387.6 597.0C1390.7 594.2 1401.2 591.7 1405.4 593.3C1409.7 594.9 1412.3 601.1 1413.0 606.5C1413.6 611.8 1413.0 622.1 1409.2 625.3C1405.4 628.4 1394.1 627.8 1390.4 625.3C1386.6 622.8 1387.1 614.9 1386.6 610.2C1386.1 605.5 1384.4 599.9 1387.6 597.0Z" fill="#3d3d3d" filter="url(#lb5)" opacity="1"/>
<path d="M1446.8 557.5C1450.6 554.4 1470.0 556.9 1473.2 561.3C1476.3 565.7 1469.4 580.7 1465.7 583.9C1461.9 587.0 1453.7 584.5 1450.6 580.1C1447.5 575.7 1443.1 560.7 1446.8 557.5Z" fill="#5c5c5c" filter="url(#lb5)" opacity="1"/>
<path d="M1303.8 515.3C1309.8 511.8 1328.9 505.6 1341.5 502.1C1354.0 498.7 1372.8 494.9 1379.1 494.6C1385.4 494.3 1385.4 497.4 1379.1 500.2C1372.8 503.0 1353.7 507.7 1341.5 511.5C1329.2 515.3 1312.0 522.2 1305.7 522.8C1299.4 523.4 1297.9 518.7 1303.8 515.3Z" fill="#959595" filter="url(#lb2)" opacity="1"/>
<path d="M1301.9 541.6C1308.2 538.5 1329.2 533.5 1341.5 530.3C1353.7 527.2 1369.7 523.1 1375.3 522.8C1381.0 522.5 1380.7 525.9 1375.3 528.4C1370.0 531.0 1355.3 534.4 1343.3 537.9C1331.4 541.3 1310.7 548.5 1303.8 549.1C1296.9 549.8 1295.7 544.8 1301.9 541.6Z" fill="#959595" filter="url(#lb2)" opacity="1"/>
<path d="M1401.7 470.1C1407.0 467.6 1424.9 462.3 1435.5 462.6C1446.2 462.9 1461.3 469.5 1465.7 472.0C1470.0 474.5 1466.9 478.0 1461.9 477.6C1456.9 477.3 1445.3 470.1 1435.5 470.1C1425.8 470.1 1409.2 477.6 1403.6 477.6C1397.9 477.6 1396.3 472.6 1401.7 470.1Z" fill="#959595" filter="url(#lb2)" opacity="1"/>
<path d="M1397.9 483.3C1402.6 481.4 1419.2 479.2 1428.0 479.5C1436.8 479.8 1450.6 483.9 1450.6 485.2C1450.6 486.4 1436.5 486.1 1428.0 487.0C1419.6 488.0 1404.8 491.4 1399.8 490.8C1394.8 490.2 1393.2 485.2 1397.9 483.3Z" fill="#909090" filter="url(#lb2)" opacity="1"/>
<path d="M1341.5 560.4C1344.9 556.3 1360.9 549.1 1367.8 545.4C1374.7 541.6 1380.3 537.9 1382.9 537.9C1385.4 537.9 1385.4 542.2 1382.9 545.4C1380.3 548.5 1373.8 552.6 1367.8 556.7C1361.8 560.8 1351.5 569.4 1347.1 570.0C1342.7 570.7 1338.0 564.5 1341.5 560.4Z" fill="#959595" filter="url(#lb2)" opacity="1"/>
<path d="M1416.7 537.9C1421.4 537.2 1437.4 539.1 1446.8 541.6C1456.2 544.1 1473.2 551.7 1473.2 552.9C1473.2 554.2 1455.9 550.4 1446.8 549.1C1437.7 547.9 1423.6 547.3 1418.6 545.4C1413.6 543.5 1412.0 538.5 1416.7 537.9Z" fill="#909090" filter="url(#lb2)" opacity="1"/>
<path d="M1390.4 545.4C1391.0 542.5 1401.0 548.8 1405.4 552.9C1409.8 557.0 1417.4 567.2 1416.7 570.0C1416.1 572.9 1406.1 574.1 1401.7 570.0C1397.3 565.9 1389.8 548.2 1390.4 545.4Z" fill="#909090" filter="url(#lb2)" opacity="1"/>
<path d="M1356.5 572.6C1360.9 568.2 1377.8 558.8 1382.9 561.3C1387.9 563.8 1389.1 582.0 1386.6 587.6C1384.1 593.3 1372.8 595.2 1367.8 595.2C1362.8 595.2 1358.4 591.4 1356.5 587.6C1354.6 583.9 1352.1 577.0 1356.5 572.6Z" fill="#9a9a9a" filter="url(#lb5)" opacity="1"/>
<path d="M1420.5 591.4C1422.4 589.5 1432.4 595.2 1435.5 598.9C1438.7 602.7 1441.2 612.1 1439.3 614.0C1437.4 615.9 1427.4 614.0 1424.3 610.2C1421.1 606.5 1418.6 593.3 1420.5 591.4Z" fill="#939393" filter="url(#lb2)" opacity="1"/>
<path d="M1313.2 561.3C1316.4 558.8 1335.8 564.4 1341.5 568.8C1347.1 573.2 1350.2 585.1 1347.1 587.6C1344.0 590.1 1328.3 588.3 1322.6 583.9C1317.0 579.5 1310.1 563.8 1313.2 561.3Z" fill="#868686" filter="url(#lb5)" opacity="1"/>
<path d="M1349.0 630.9C1349.0 630.3 1362.8 635.0 1371.6 636.6C1380.3 638.1 1401.7 639.7 1401.7 640.3C1401.7 641.0 1380.3 641.9 1371.6 640.3C1362.8 638.8 1349.0 631.5 1349.0 630.9Z" fill="#9a9a9a" filter="url(#lb2)" opacity="1"/>
<path d="M1389.4 498.3C1386.8 499.4 1376.1 503.8 1373.4 504.9" stroke="#e6e6e6" stroke-width="1.6" fill="none" filter="url(#lb1)" opacity="1" stroke-linecap="round"/>
<path d="M1391.3 494.6C1394.0 496.1 1404.7 502.4 1407.3 504.0" stroke="#e6e6e6" stroke-width="1.6" fill="none" filter="url(#lb1)" opacity="1" stroke-linecap="round"/>
<path d="M1373.4 504.9C1368.7 507.3 1349.9 516.7 1345.2 519.0" stroke="#b2b2b2" stroke-width="1.2" fill="none" filter="url(#lb1)" opacity="1" stroke-linecap="round"/>
<path d="M1407.3 504.0C1410.8 505.2 1424.6 510.3 1428.0 511.5" stroke="#adadad" stroke-width="1.2" fill="none" filter="url(#lb1)" opacity="1" stroke-linecap="round"/>
<path d="M1386.6 528.4C1382.9 531.3 1371.6 540.1 1364.0 545.4C1356.5 550.7 1345.2 557.9 1341.5 560.4" stroke="#b8b8b8" stroke-width="1.2" fill="none" filter="url(#lb1)" opacity="1" stroke-linecap="round"/>
<path d="M1390.4 530.3C1394.1 531.6 1406.7 534.7 1413.0 537.9C1419.2 541.0 1425.5 547.3 1428.0 549.1" stroke="#b2b2b2" stroke-width="1.2" fill="none" filter="url(#lb1)" opacity="1" stroke-linecap="round"/>
<path d="M1385.7 578.2C1383.6 578.9 1375.5 581.4 1373.4 582.0" stroke="#e0e0e0" stroke-width="1.5" fill="none" filter="url(#lb1)" opacity="1" stroke-linecap="round"/>
<path d="M1386.6 576.3C1388.5 577.3 1394.1 579.8 1397.9 582.0C1401.7 584.2 1407.3 588.3 1409.2 589.5" stroke="#bdbdbd" stroke-width="1.3" fill="none" filter="url(#lb1)" opacity="1" stroke-linecap="round"/>
<circle cx="1409.2" cy="589.1" r="1.8" fill="#ebebeb" filter="url(#lb1)"/>
<circle cx="1345.2" cy="519.0" r="1.4" fill="#d9d9d9" filter="url(#lb1)"/>
<circle cx="1428.0" cy="548.2" r="1.4" fill="#d9d9d9" filter="url(#lb1)"/>
<path d="M1389.4 485.2C1389.5 490.2 1389.8 505.2 1389.6 515.3C1389.4 525.3 1388.6 536.3 1388.1 545.4C1387.6 554.5 1386.9 565.9 1386.6 570.0" stroke="#f7f7f7" stroke-width="3.2" fill="none" filter="url(#lb1)" opacity="1" stroke-linecap="round"/>
<path d="M1387.6 550.0C1387.2 554.7 1386.0 573.5 1385.7 578.2" stroke="#f2f2f2" stroke-width="3.0" fill="none" filter="url(#lb1)" opacity="1" stroke-linecap="round"/>
<path d="M1385.7 578.2C1385.4 582.9 1384.3 598.0 1383.8 606.5C1383.3 614.9 1383.0 625.3 1382.9 629.0" stroke="#bdbdbd" stroke-width="1.8" fill="none" filter="url(#lb1)" opacity="1" stroke-linecap="round"/>
</g></g>
<linearGradient id="jcb" x1="0" x2="0" y1="0" y2="1">
<stop offset="0" stop-color="#ee2a12"/><stop offset="0.1" stop-color="#fb5a08"/><stop offset="0.2" stop-color="#ffa400"/><stop offset="0.29" stop-color="#f6f01a"/>
<stop offset="0.4" stop-color="#8cf046"/><stop offset="0.5" stop-color="#3ee882"/><stop offset="0.6" stop-color="#1cd6c4"/><stop offset="0.7" stop-color="#0e9cf0"/>
<stop offset="0.82" stop-color="#0c3cf6"/><stop offset="0.92" stop-color="#0a0ed0"/><stop offset="1" stop-color="#08087e"/></linearGradient>
<rect x="1535.2" y="465.9" width="23.5" height="164.2" fill="url(#jcb)"/>
<g filter="url(#tb)" font-weight="bold" fill="#000">
<text x="1547.4" y="456.2" font-size="18.5" text-anchor="middle">1</text>
<text x="1547.4" y="650.6" font-size="18.5" text-anchor="middle">0</text>
<text x="729.5" y="418.8" font-size="34">B</text>
<text x="880.9" y="413.2" font-size="27" text-anchor="middle">CCC</text>
<text x="1131.4" y="413.2" font-size="27.4" text-anchor="middle">RCP 4.5</text>
<text x="1388.7" y="413.2" font-size="27.4" text-anchor="middle">RCP 8.5</text>
<text transform="translate(753.6,553.3) rotate(-90)" font-size="27.3" text-anchor="middle">CSIB (AU)</text>
</g>
</g>
<g id="watermarks">
<defs>
<path id="g_yi" d="M12 3H28V15H12ZM12 9H28M9 20H31M15 20Q12 28 5 33M31 20Q32 34 24 37M21 22Q18 30 12 36M27 22Q24 31 19 37" fill="none" stroke-linecap="round" stroke-linejoin="round"/>
<path id="g_ke" d="M3 12H18M11 3V38M11 14Q8 22 2 27M11 14Q14 20 18 23M15 4L6 8M24 8L27 12M23 16L26 20M20 27L39 23M32 2V38" fill="none" stroke-linecap="round" stroke-linejoin="round"/>
<path id="g_tai" d="M8 7H32M11 13H29M3 19H37M20 2V19M19 19Q14 27 3 31M21 19Q27 27 38 30M20 22V38Q19 39 16 37M14 27L10 34M26 27L30 33" fill="none" stroke-linecap="round" stroke-linejoin="round"/>
<path id="g_sheng" d="M12 5Q10 12 5 17M9 12H33M20 3V36M8 23H32M3 37H37" fill="none" stroke-linecap="round" stroke-linejoin="round"/>
<path id="g_tai2" d="M4 9H36M20 2Q19 14 5 22M20 9Q26 17 37 21M18 17L22 21M6 27L3 35M12 25Q11 37 16 37H26Q29 37 29 32M21 25L24 30M32 26L37 33" fill="none" stroke-linecap="round" stroke-linejoin="round"/>
<path id="g_ji" d="M2 12H15M9 3V34Q9 38 5 35M2 26L15 20M18 10H38M28 3V19M20 19H36Q30 31 17 38M22 23Q28 33 39 37" fill="none" stroke-linecap="round" stroke-linejoin="round"/>
<path id="g_shu" d="M4 13H36M20 3V38M19 14Q14 25 3 31M21 14Q27 25 38 30M28 4L32 8" fill="none" stroke-linecap="round" stroke-linejoin="round"/>
<g id="wmk">
<g fill="none" stroke="#7ccc7c" stroke-opacity="0.48" stroke-width="1.3">
<g transform="translate(0,-17.5) skewX(-14)">
<path d="M36 -60 L10 -60 Q-8 -58 -8 -38 L-8 -20 Q-8 0 10 0 L36 0 L36 -11 L14 -11 Q6 -12 6 -20 L6 -25 L32 -25 L32 -35 L6 -35 L6 -40 Q6 -48 14 -49 L36 -49 Z"/>
</g>
<circle cx="63.5" cy="-41" r="23.5"/>
<path d="M85.5 -36 L67.5 -44 A5.5 5.5 0 1 0 64.5 -35 L82.5 -27"/>
<circle cx="116" cy="-41" r="23.5"/>
<circle cx="116" cy="-41" r="6.5"/>
<circle cx="205.5" cy="-41" r="23.5"/>
<path d="M228.5 -38 L209.5 -45 A5.5 5.5 0 1 0 206.5 -36 L226.5 -30"/>
<circle cx="257.3" cy="-41" r="23.5"/>
<path d="M279.3 -36 L261.3 -44 A5.5 5.5 0 1 0 258.3 -35 L276.3 -27"/>
<g transform="translate(0,-17.5) skewX(-14)">
<path d="M133 -60 L177 -60 L177 -47 L162 -47 L162 0 L148 0 L148 -47 L133 -47 Z"/>
<path d="M283 0 L283 -59 L295 -59 L295 -38 Q300 -43 307 -42 Q315 -40 315 -30 L315 0 L303 0 L303 -27 Q302.5 -32 299 -31 Q295 -30 295 -25 L295 0 Z"/>
</g>
<circle cx="319" cy="-73" r="8.5"/>
<path d="M316 -68.500 V-77.500 H320 Q323 -77.300 323 -75 Q323 -72.800 320 -72.800 H316 M320 -72.800 L323.300 -68.500" stroke-width="1"/>
</g>
<line x1="0" y1="0" x2="322" y2="0" stroke="#58b08c" stroke-opacity="0.5" stroke-width="3.9"/>
</g>
<g id="wmt" stroke="#6e6262" stroke-opacity="0.36" stroke-width="3.4">
<use href="#g_yi" transform="translate(-10.9,15.6) scale(0.92)"/>
<use href="#g_ke" transform="translate(38.0,15.6) scale(0.92)"/>
<use href="#g_tai" transform="translate(86.9,15.6) scale(0.92)"/>
<use href="#g_sheng" transform="translate(135.8,15.6) scale(0.92)"/>
<use href="#g_tai2" transform="translate(184.7,15.6) scale(0.92)"/>
<use href="#g_ji" transform="translate(233.6,15.6) scale(0.92)"/>
<use href="#g_shu" transform="translate(282.5,15.6) scale(0.92)"/>
</g>
</defs>
<use href="#wmk" transform="translate(591.0,157.7) rotate(20)"/>
<use href="#wmt" transform="translate(591.0,157.7) rotate(20) translate(0,4)"/>
<use href="#wmk" transform="translate(1154.0,363.3) rotate(20)"/>
<use href="#wmt" transform="translate(1154.0,363.3) rotate(20) translate(13,8)"/>
<use href="#wmk" transform="translate(1294.0,-16.3) rotate(20)"/>
<use href="#wmt" transform="translate(1294.0,-16.3) rotate(20) translate(0,0)"/>
<use href="#wmk" transform="translate(451.0,538.8) rotate(20)"/>
<use href="#wmt" transform="translate(451.0,538.8) rotate(20) translate(8,-1.5)"/>
<use href="#wmk" transform="translate(-116.5,333.2) rotate(20)"/>
<use href="#wmt" transform="translate(-116.5,333.2) rotate(20) translate(0,2)"/>
<use href="#wmk" transform="translate(1008.0,739.9) rotate(20)"/>
<use href="#wmt" transform="translate(1008.0,739.9) rotate(20) translate(0,0)"/>
</g>
</svg>
</body></html>
